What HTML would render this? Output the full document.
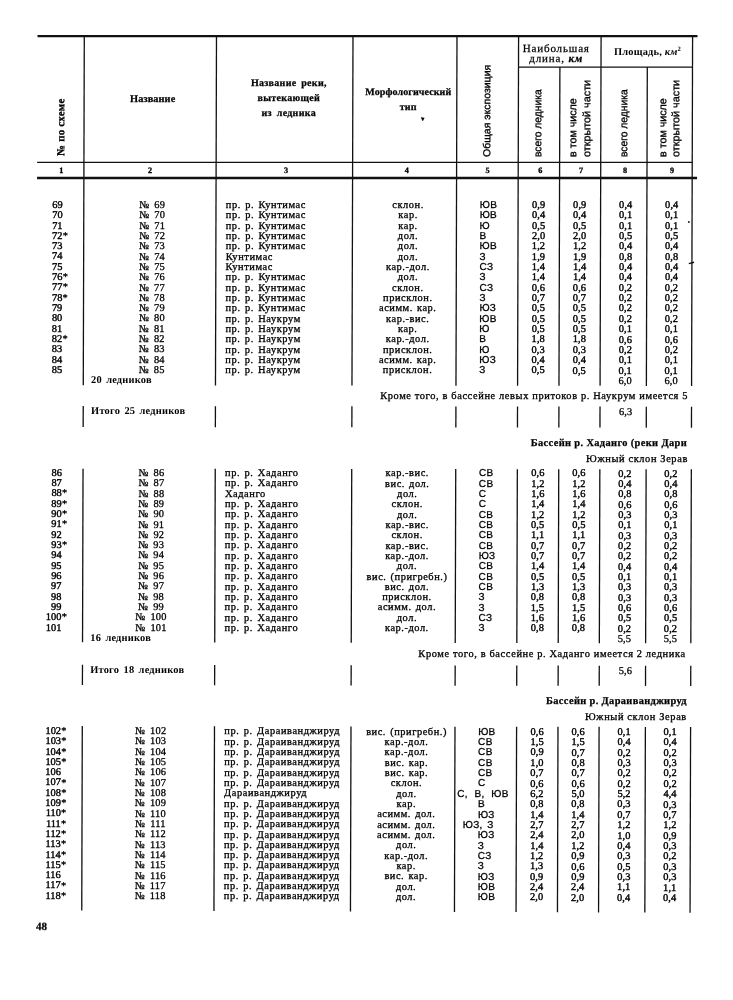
<!DOCTYPE html>
<html><head><meta charset="utf-8"><style>
html,body{margin:0;padding:0;background:#fff;}
#pg{filter:grayscale(1);position:relative;width:733px;height:1000px;overflow:hidden;background:#fff;color:#111;font-family:'Liberation Serif', serif;}
.l{position:absolute;}
#sk{position:absolute;left:0;top:0;width:733px;height:1000px;transform-origin:0 205px;transform:skewX(-0.166deg);}
.t{position:absolute;line-height:0;white-space:nowrap;-webkit-text-stroke:0.3px #000;color:#000}
.b{-webkit-text-stroke:0}
.r{transform-origin:0 0;}
.st{position:absolute;left:100%;top:0;font-size:8px;}
</style></head><body><div id="pg"><div id="sk">
<svg width="733" height="1000" style="position:absolute;left:0;top:0">
<rect x="37.00" y="35.00" width="660.00" height="2.20" fill="#111"/>
<rect x="37.00" y="161.80" width="655.00" height="1.30" fill="#111"/>
<rect x="37.00" y="176.80" width="660.00" height="2.40" fill="#111"/>
<rect x="517.60" y="66.40" width="174.50" height="1.30" fill="#111"/>
<rect x="83.15" y="37.00" width="1.30" height="140.20" fill="#111"/>
<rect x="215.35" y="37.00" width="1.30" height="140.20" fill="#111"/>
<rect x="351.85" y="37.00" width="1.30" height="140.20" fill="#111"/>
<rect x="455.85" y="37.00" width="1.30" height="140.20" fill="#111"/>
<rect x="517.45" y="37.00" width="1.30" height="140.20" fill="#111"/>
<rect x="558.85" y="67.00" width="1.30" height="110.20" fill="#111"/>
<rect x="599.95" y="37.00" width="1.30" height="140.20" fill="#111"/>
<rect x="646.25" y="67.00" width="1.30" height="110.20" fill="#111"/>
<rect x="691.45" y="37.00" width="1.30" height="140.20" fill="#111"/>
<path d="M420.8 117.5 L424.0 117.9 L422.5 120.9 Z" fill="#000" stroke="#000" stroke-width="0.4"/>
<circle cx="688.9" cy="221.9" r="1.0" fill="#222"/>
<path d="M689.0 263.6 L694.2 262.2" stroke="#111" stroke-width="1.4"/>
<rect x="83.15" y="178.00" width="1.30" height="207.33" fill="#111"/>
<rect x="215.35" y="178.00" width="1.30" height="207.46" fill="#111"/>
<rect x="351.85" y="178.00" width="1.30" height="207.60" fill="#111"/>
<rect x="455.85" y="178.00" width="1.30" height="207.71" fill="#111"/>
<rect x="517.45" y="178.00" width="1.30" height="207.77" fill="#111"/>
<rect x="558.85" y="178.00" width="1.30" height="207.81" fill="#111"/>
<rect x="599.95" y="178.00" width="1.30" height="207.85" fill="#111"/>
<rect x="646.25" y="178.00" width="1.30" height="207.90" fill="#111"/>
<rect x="691.45" y="178.00" width="1.30" height="207.94" fill="#111"/>
<rect x="83.15" y="406.03" width="1.30" height="21.00" fill="#111"/>
<rect x="215.35" y="406.17" width="1.30" height="21.01" fill="#111"/>
<rect x="351.85" y="406.31" width="1.30" height="21.01" fill="#111"/>
<rect x="455.85" y="406.42" width="1.30" height="21.02" fill="#111"/>
<rect x="517.45" y="406.49" width="1.30" height="21.02" fill="#111"/>
<rect x="558.85" y="406.53" width="1.30" height="21.02" fill="#111"/>
<rect x="599.95" y="406.58" width="1.30" height="21.03" fill="#111"/>
<rect x="646.25" y="406.63" width="1.30" height="21.03" fill="#111"/>
<rect x="691.45" y="406.67" width="1.30" height="21.03" fill="#111"/>
<rect x="83.15" y="468.63" width="1.30" height="173.71" fill="#111"/>
<rect x="215.35" y="468.79" width="1.30" height="173.76" fill="#111"/>
<rect x="351.85" y="468.96" width="1.30" height="173.82" fill="#111"/>
<rect x="455.85" y="469.08" width="1.30" height="173.86" fill="#111"/>
<rect x="517.45" y="469.16" width="1.30" height="173.88" fill="#111"/>
<rect x="558.85" y="469.21" width="1.30" height="173.90" fill="#111"/>
<rect x="599.95" y="469.26" width="1.30" height="173.92" fill="#111"/>
<rect x="646.25" y="469.31" width="1.30" height="173.93" fill="#111"/>
<rect x="691.45" y="469.37" width="1.30" height="173.95" fill="#111"/>
<rect x="83.15" y="664.85" width="1.30" height="20.20" fill="#111"/>
<rect x="215.35" y="665.06" width="1.30" height="20.20" fill="#111"/>
<rect x="351.85" y="665.27" width="1.30" height="20.20" fill="#111"/>
<rect x="455.85" y="665.44" width="1.30" height="20.20" fill="#111"/>
<rect x="517.45" y="665.54" width="1.30" height="20.20" fill="#111"/>
<rect x="558.85" y="665.61" width="1.30" height="20.20" fill="#111"/>
<rect x="599.95" y="665.67" width="1.30" height="20.20" fill="#111"/>
<rect x="646.25" y="665.75" width="1.30" height="20.20" fill="#111"/>
<rect x="691.45" y="665.82" width="1.30" height="20.20" fill="#111"/>
<rect x="83.15" y="726.05" width="1.30" height="184.55" fill="#111"/>
<rect x="215.35" y="726.26" width="1.30" height="184.80" fill="#111"/>
<rect x="351.85" y="726.47" width="1.30" height="185.06" fill="#111"/>
<rect x="455.85" y="726.64" width="1.30" height="185.26" fill="#111"/>
<rect x="517.45" y="726.74" width="1.30" height="185.37" fill="#111"/>
<rect x="558.85" y="726.81" width="1.30" height="185.45" fill="#111"/>
<rect x="599.95" y="726.87" width="1.30" height="185.53" fill="#111"/>
<rect x="646.25" y="726.95" width="1.30" height="185.61" fill="#111"/>
<rect x="691.45" y="727.02" width="1.30" height="185.70" fill="#111"/>
</svg>
<div class="t r b" style="left:59.65px;top:155.80px;font-size:10.8px;font-weight:700;font-family:'Liberation Serif', serif;-webkit-text-stroke:0.3px #000;letter-spacing:0.3px;transform:rotate(-90deg) scaleX(1.0)">№ по схеме</div>
<div class="t r" style="left:486.67px;top:157.00px;font-size:10.2px;font-weight:400;font-family:'Liberation Sans', sans-serif;letter-spacing:0px;transform:rotate(-90deg) scaleX(1.03)">Общая экспозиция</div>
<div class="t r" style="left:537.33px;top:156.80px;font-size:10.6px;font-weight:400;font-family:'Liberation Sans', sans-serif;letter-spacing:0px;transform:rotate(-90deg) scaleX(0.97)">всего ледника</div>
<div class="t r" style="left:571.83px;top:156.80px;font-size:10.6px;font-weight:400;font-family:'Liberation Sans', sans-serif;letter-spacing:0px;transform:rotate(-90deg) scaleX(1.01)">в том числе</div>
<div class="t r" style="left:585.93px;top:156.80px;font-size:10.6px;font-weight:400;font-family:'Liberation Sans', sans-serif;letter-spacing:0px;transform:rotate(-90deg) scaleX(1.02)">открытой части</div>
<div class="t r" style="left:623.33px;top:156.80px;font-size:10.6px;font-weight:400;font-family:'Liberation Sans', sans-serif;letter-spacing:0px;transform:rotate(-90deg) scaleX(0.97)">всего ледника</div>
<div class="t r" style="left:661.93px;top:156.80px;font-size:10.6px;font-weight:400;font-family:'Liberation Sans', sans-serif;letter-spacing:0px;transform:rotate(-90deg) scaleX(1.01)">в том числе</div>
<div class="t r" style="left:674.73px;top:157.00px;font-size:10.6px;font-weight:400;font-family:'Liberation Sans', sans-serif;letter-spacing:0px;transform:rotate(-90deg) scaleX(1.02)">открытой части</div>
<div class="t b" style="top:98.82px;font-size:10.3px;letter-spacing:0.1px;font-weight:700;font-family:'Liberation Serif', serif;left:2.40px;width:300px;text-align:center;-webkit-text-stroke:0.25px #000;">Название</div>
<div class="t b" style="top:83.33px;font-size:10.0px;letter-spacing:0.3px;font-weight:700;font-family:'Liberation Serif', serif;left:138.50px;width:300px;text-align:center;word-spacing:2px;-webkit-text-stroke:0.25px #000;">Название реки,</div>
<div class="t b" style="top:98.33px;font-size:10.0px;letter-spacing:0.3px;font-weight:700;font-family:'Liberation Serif', serif;left:138.50px;width:300px;text-align:center;word-spacing:2px;-webkit-text-stroke:0.25px #000;">вытекающей</div>
<div class="t b" style="top:113.33px;font-size:10.0px;letter-spacing:0.3px;font-weight:700;font-family:'Liberation Serif', serif;left:138.50px;width:300px;text-align:center;word-spacing:2px;-webkit-text-stroke:0.25px #000;">из ледника</div>
<div class="t b" style="top:91.62px;font-size:10.0px;letter-spacing:0.1px;font-weight:700;font-family:'Liberation Serif', serif;left:258.00px;width:300px;text-align:center;-webkit-text-stroke:0.25px #000;">Морфологический</div>
<div class="t b" style="top:106.62px;font-size:10.0px;letter-spacing:0.2px;font-weight:700;font-family:'Liberation Serif', serif;left:258.00px;width:300px;text-align:center;-webkit-text-stroke:0.25px #000;">тип</div>
<div class="t" style="top:48.19px;font-size:11.0px;letter-spacing:0.85px;font-weight:400;font-family:'Liberation Serif', serif;left:405.80px;width:300px;text-align:center;-webkit-text-stroke:0.25px #000;">Наибольшая</div>
<div class="t" style="top:57.69px;font-size:11.0px;letter-spacing:0.85px;font-weight:400;font-family:'Liberation Serif', serif;left:405.80px;width:300px;text-align:center;-webkit-text-stroke:0.25px #000;">длина, <i><b>км</b></i></div>
<div class="t b" style="top:52.49px;font-size:10.4px;letter-spacing:0.2px;font-weight:700;font-family:'Liberation Serif', serif;left:497.10px;width:300px;text-align:center;">Площадь, <i>км</i><span style="font-size:6.5px;position:relative;top:-4px">2</span></div>
<div class="t b" style="top:170.53px;font-size:8.2px;letter-spacing:0px;font-weight:700;font-family:'Liberation Serif', serif;left:-88.70px;width:300px;text-align:center;-webkit-text-stroke:0.3px #000;">1</div>
<div class="t b" style="top:170.53px;font-size:8.2px;letter-spacing:0px;font-weight:700;font-family:'Liberation Serif', serif;left:-0.10px;width:300px;text-align:center;-webkit-text-stroke:0.3px #000;">2</div>
<div class="t b" style="top:170.53px;font-size:8.2px;letter-spacing:0px;font-weight:700;font-family:'Liberation Serif', serif;left:136.00px;width:300px;text-align:center;-webkit-text-stroke:0.3px #000;">3</div>
<div class="t b" style="top:170.53px;font-size:8.2px;letter-spacing:0px;font-weight:700;font-family:'Liberation Serif', serif;left:256.70px;width:300px;text-align:center;-webkit-text-stroke:0.3px #000;">4</div>
<div class="t b" style="top:170.53px;font-size:8.2px;letter-spacing:0px;font-weight:700;font-family:'Liberation Serif', serif;left:337.40px;width:300px;text-align:center;-webkit-text-stroke:0.3px #000;">5</div>
<div class="t b" style="top:170.53px;font-size:8.2px;letter-spacing:0px;font-weight:700;font-family:'Liberation Serif', serif;left:390.20px;width:300px;text-align:center;-webkit-text-stroke:0.3px #000;">6</div>
<div class="t b" style="top:170.53px;font-size:8.2px;letter-spacing:0px;font-weight:700;font-family:'Liberation Serif', serif;left:430.90px;width:300px;text-align:center;-webkit-text-stroke:0.3px #000;">7</div>
<div class="t b" style="top:170.53px;font-size:8.2px;letter-spacing:0px;font-weight:700;font-family:'Liberation Serif', serif;left:474.90px;width:300px;text-align:center;-webkit-text-stroke:0.3px #000;">8</div>
<div class="t b" style="top:170.53px;font-size:8.2px;letter-spacing:0px;font-weight:700;font-family:'Liberation Serif', serif;left:522.00px;width:300px;text-align:center;-webkit-text-stroke:0.3px #000;">9</div>
<div class="t" style="top:204.89px;right:670.40px;font-size:10.4px;letter-spacing:0;text-align:right;-webkit-text-stroke:0.4px #000">69</div>
<div class="t" style="top:204.89px;font-size:10.4px;letter-spacing:0.2px;font-weight:400;font-family:'Liberation Serif', serif;left:2.20px;width:300px;text-align:center;word-spacing:2.2px;">№ 69</div>
<div class="t" style="top:204.90px;font-size:10.4px;letter-spacing:0.58px;font-weight:400;font-family:'Liberation Serif', serif;left:225.80px;word-spacing:1.2px;">пр. р. Кунтимас</div>
<div class="t" style="top:204.91px;font-size:10.4px;letter-spacing:0.55px;font-weight:400;font-family:'Liberation Serif', serif;left:258.10px;width:300px;text-align:center;word-spacing:1px;">склон.</div>
<div class="t" style="top:204.96px;font-size:10.0px;letter-spacing:0.35px;font-weight:400;font-family:'Liberation Sans', sans-serif;left:479.70px;word-spacing:1.5px;">ЮВ</div>
<div class="t" style="top:204.91px;font-size:10.4px;letter-spacing:0.1px;font-weight:400;font-family:'Liberation Serif', serif;left:532.00px;-webkit-text-stroke:0.4px #000;">0,9</div>
<div class="t" style="top:204.92px;font-size:10.4px;letter-spacing:0.1px;font-weight:400;font-family:'Liberation Serif', serif;left:573.10px;-webkit-text-stroke:0.4px #000;">0,9</div>
<div class="t" style="top:204.92px;font-size:10.4px;letter-spacing:0.1px;font-weight:400;font-family:'Liberation Serif', serif;left:619.10px;-webkit-text-stroke:0.4px #000;">0,4</div>
<div class="t" style="top:204.92px;font-size:10.4px;letter-spacing:0.1px;font-weight:400;font-family:'Liberation Serif', serif;left:665.10px;-webkit-text-stroke:0.4px #000;">0,4</div>
<div class="t" style="top:215.21px;right:670.40px;font-size:10.4px;letter-spacing:0;text-align:right;-webkit-text-stroke:0.4px #000">70</div>
<div class="t" style="top:215.22px;font-size:10.4px;letter-spacing:0.2px;font-weight:400;font-family:'Liberation Serif', serif;left:2.20px;width:300px;text-align:center;word-spacing:2.2px;">№ 70</div>
<div class="t" style="top:215.23px;font-size:10.4px;letter-spacing:0.58px;font-weight:400;font-family:'Liberation Serif', serif;left:225.80px;word-spacing:1.2px;">пр. р. Кунтимас</div>
<div class="t" style="top:215.25px;font-size:10.4px;letter-spacing:0.55px;font-weight:400;font-family:'Liberation Serif', serif;left:258.10px;width:300px;text-align:center;word-spacing:1px;">кар.</div>
<div class="t" style="top:215.30px;font-size:10.0px;letter-spacing:0.35px;font-weight:400;font-family:'Liberation Sans', sans-serif;left:479.70px;word-spacing:1.5px;">ЮВ</div>
<div class="t" style="top:215.26px;font-size:10.4px;letter-spacing:0.1px;font-weight:400;font-family:'Liberation Serif', serif;left:532.00px;-webkit-text-stroke:0.4px #000;">0,4</div>
<div class="t" style="top:215.27px;font-size:10.4px;letter-spacing:0.1px;font-weight:400;font-family:'Liberation Serif', serif;left:573.10px;-webkit-text-stroke:0.4px #000;">0,4</div>
<div class="t" style="top:215.27px;font-size:10.4px;letter-spacing:0.1px;font-weight:400;font-family:'Liberation Serif', serif;left:619.10px;-webkit-text-stroke:0.4px #000;">0,1</div>
<div class="t" style="top:215.28px;font-size:10.4px;letter-spacing:0.1px;font-weight:400;font-family:'Liberation Serif', serif;left:665.10px;-webkit-text-stroke:0.4px #000;">0,1</div>
<div class="t" style="top:225.53px;right:670.40px;font-size:10.4px;letter-spacing:0;text-align:right;-webkit-text-stroke:0.4px #000">71</div>
<div class="t" style="top:225.55px;font-size:10.4px;letter-spacing:0.2px;font-weight:400;font-family:'Liberation Serif', serif;left:2.20px;width:300px;text-align:center;word-spacing:2.2px;">№ 71</div>
<div class="t" style="top:225.56px;font-size:10.4px;letter-spacing:0.58px;font-weight:400;font-family:'Liberation Serif', serif;left:225.80px;word-spacing:1.2px;">пр. р. Кунтимас</div>
<div class="t" style="top:225.59px;font-size:10.4px;letter-spacing:0.55px;font-weight:400;font-family:'Liberation Serif', serif;left:258.10px;width:300px;text-align:center;word-spacing:1px;">кар.</div>
<div class="t" style="top:225.65px;font-size:10.0px;letter-spacing:0.35px;font-weight:400;font-family:'Liberation Sans', sans-serif;left:479.70px;word-spacing:1.5px;">Ю</div>
<div class="t" style="top:225.61px;font-size:10.4px;letter-spacing:0.1px;font-weight:400;font-family:'Liberation Serif', serif;left:532.00px;-webkit-text-stroke:0.4px #000;">0,5</div>
<div class="t" style="top:225.62px;font-size:10.4px;letter-spacing:0.1px;font-weight:400;font-family:'Liberation Serif', serif;left:573.10px;-webkit-text-stroke:0.4px #000;">0,5</div>
<div class="t" style="top:225.62px;font-size:10.4px;letter-spacing:0.1px;font-weight:400;font-family:'Liberation Serif', serif;left:619.10px;-webkit-text-stroke:0.4px #000;">0,1</div>
<div class="t" style="top:225.63px;font-size:10.4px;letter-spacing:0.1px;font-weight:400;font-family:'Liberation Serif', serif;left:665.10px;-webkit-text-stroke:0.4px #000;">0,1</div>
<div class="t" style="top:235.85px;right:670.40px;font-size:10.4px;letter-spacing:0;text-align:right;-webkit-text-stroke:0.4px #000">72</div>
<div class="t" style="top:235.86px;font-size:10.4px;letter-spacing:0px;font-weight:400;font-family:'Liberation Serif', serif;left:62.90px;">*</div>
<div class="t" style="top:235.87px;font-size:10.4px;letter-spacing:0.2px;font-weight:400;font-family:'Liberation Serif', serif;left:2.20px;width:300px;text-align:center;word-spacing:2.2px;">№ 72</div>
<div class="t" style="top:235.89px;font-size:10.4px;letter-spacing:0.58px;font-weight:400;font-family:'Liberation Serif', serif;left:225.80px;word-spacing:1.2px;">пр. р. Кунтимас</div>
<div class="t" style="top:235.93px;font-size:10.4px;letter-spacing:0.55px;font-weight:400;font-family:'Liberation Serif', serif;left:258.10px;width:300px;text-align:center;word-spacing:1px;">дол.</div>
<div class="t" style="top:235.99px;font-size:10.0px;letter-spacing:0.35px;font-weight:400;font-family:'Liberation Sans', sans-serif;left:479.70px;word-spacing:1.5px;">В</div>
<div class="t" style="top:235.96px;font-size:10.4px;letter-spacing:0.1px;font-weight:400;font-family:'Liberation Serif', serif;left:532.00px;-webkit-text-stroke:0.4px #000;">2,0</div>
<div class="t" style="top:235.97px;font-size:10.4px;letter-spacing:0.1px;font-weight:400;font-family:'Liberation Serif', serif;left:573.10px;-webkit-text-stroke:0.4px #000;">2,0</div>
<div class="t" style="top:235.98px;font-size:10.4px;letter-spacing:0.1px;font-weight:400;font-family:'Liberation Serif', serif;left:619.10px;-webkit-text-stroke:0.4px #000;">0,5</div>
<div class="t" style="top:235.99px;font-size:10.4px;letter-spacing:0.1px;font-weight:400;font-family:'Liberation Serif', serif;left:665.10px;-webkit-text-stroke:0.4px #000;">0,5</div>
<div class="t" style="top:246.17px;right:670.40px;font-size:10.4px;letter-spacing:0;text-align:right;-webkit-text-stroke:0.4px #000">73</div>
<div class="t" style="top:246.20px;font-size:10.4px;letter-spacing:0.2px;font-weight:400;font-family:'Liberation Serif', serif;left:2.20px;width:300px;text-align:center;word-spacing:2.2px;">№ 73</div>
<div class="t" style="top:246.22px;font-size:10.4px;letter-spacing:0.58px;font-weight:400;font-family:'Liberation Serif', serif;left:225.80px;word-spacing:1.2px;">пр. р. Кунтимас</div>
<div class="t" style="top:246.27px;font-size:10.4px;letter-spacing:0.55px;font-weight:400;font-family:'Liberation Serif', serif;left:258.10px;width:300px;text-align:center;word-spacing:1px;">дол.</div>
<div class="t" style="top:246.34px;font-size:10.0px;letter-spacing:0.35px;font-weight:400;font-family:'Liberation Sans', sans-serif;left:479.70px;word-spacing:1.5px;">ЮВ</div>
<div class="t" style="top:246.31px;font-size:10.4px;letter-spacing:0.1px;font-weight:400;font-family:'Liberation Serif', serif;left:532.00px;-webkit-text-stroke:0.4px #000;">1,2</div>
<div class="t" style="top:246.32px;font-size:10.4px;letter-spacing:0.1px;font-weight:400;font-family:'Liberation Serif', serif;left:573.10px;-webkit-text-stroke:0.4px #000;">1,2</div>
<div class="t" style="top:246.33px;font-size:10.4px;letter-spacing:0.1px;font-weight:400;font-family:'Liberation Serif', serif;left:619.10px;-webkit-text-stroke:0.4px #000;">0,4</div>
<div class="t" style="top:246.34px;font-size:10.4px;letter-spacing:0.1px;font-weight:400;font-family:'Liberation Serif', serif;left:665.10px;-webkit-text-stroke:0.4px #000;">0,4</div>
<div class="t" style="top:256.49px;right:670.40px;font-size:10.4px;letter-spacing:0;text-align:right;-webkit-text-stroke:0.4px #000">74</div>
<div class="t" style="top:256.52px;font-size:10.4px;letter-spacing:0.2px;font-weight:400;font-family:'Liberation Serif', serif;left:2.20px;width:300px;text-align:center;word-spacing:2.2px;">№ 74</div>
<div class="t" style="top:256.55px;font-size:10.4px;letter-spacing:0.58px;font-weight:400;font-family:'Liberation Serif', serif;left:225.80px;word-spacing:1.2px;">Кунтимас</div>
<div class="t" style="top:256.61px;font-size:10.4px;letter-spacing:0.55px;font-weight:400;font-family:'Liberation Serif', serif;left:258.10px;width:300px;text-align:center;word-spacing:1px;">дол.</div>
<div class="t" style="top:256.68px;font-size:10.0px;letter-spacing:0.35px;font-weight:400;font-family:'Liberation Sans', sans-serif;left:479.70px;word-spacing:1.5px;">З</div>
<div class="t" style="top:256.66px;font-size:10.4px;letter-spacing:0.1px;font-weight:400;font-family:'Liberation Serif', serif;left:532.00px;-webkit-text-stroke:0.4px #000;">1,9</div>
<div class="t" style="top:256.67px;font-size:10.4px;letter-spacing:0.1px;font-weight:400;font-family:'Liberation Serif', serif;left:573.10px;-webkit-text-stroke:0.4px #000;">1,9</div>
<div class="t" style="top:256.68px;font-size:10.4px;letter-spacing:0.1px;font-weight:400;font-family:'Liberation Serif', serif;left:619.10px;-webkit-text-stroke:0.4px #000;">0,8</div>
<div class="t" style="top:256.70px;font-size:10.4px;letter-spacing:0.1px;font-weight:400;font-family:'Liberation Serif', serif;left:665.10px;-webkit-text-stroke:0.4px #000;">0,8</div>
<div class="t" style="top:266.81px;right:670.40px;font-size:10.4px;letter-spacing:0;text-align:right;-webkit-text-stroke:0.4px #000">75</div>
<div class="t" style="top:266.85px;font-size:10.4px;letter-spacing:0.2px;font-weight:400;font-family:'Liberation Serif', serif;left:2.20px;width:300px;text-align:center;word-spacing:2.2px;">№ 75</div>
<div class="t" style="top:266.88px;font-size:10.4px;letter-spacing:0.58px;font-weight:400;font-family:'Liberation Serif', serif;left:225.80px;word-spacing:1.2px;">Кунтимас</div>
<div class="t" style="top:266.95px;font-size:10.4px;letter-spacing:0.55px;font-weight:400;font-family:'Liberation Serif', serif;left:258.10px;width:300px;text-align:center;word-spacing:1px;">кар.-дол.</div>
<div class="t" style="top:267.03px;font-size:10.0px;letter-spacing:0.35px;font-weight:400;font-family:'Liberation Sans', sans-serif;left:479.70px;word-spacing:1.5px;">СЗ</div>
<div class="t" style="top:267.00px;font-size:10.4px;letter-spacing:0.1px;font-weight:400;font-family:'Liberation Serif', serif;left:532.00px;-webkit-text-stroke:0.4px #000;">1,4</div>
<div class="t" style="top:267.02px;font-size:10.4px;letter-spacing:0.1px;font-weight:400;font-family:'Liberation Serif', serif;left:573.10px;-webkit-text-stroke:0.4px #000;">1,4</div>
<div class="t" style="top:267.04px;font-size:10.4px;letter-spacing:0.1px;font-weight:400;font-family:'Liberation Serif', serif;left:619.10px;-webkit-text-stroke:0.4px #000;">0,4</div>
<div class="t" style="top:267.06px;font-size:10.4px;letter-spacing:0.1px;font-weight:400;font-family:'Liberation Serif', serif;left:665.10px;-webkit-text-stroke:0.4px #000;">0,4</div>
<div class="t" style="top:277.13px;right:670.40px;font-size:10.4px;letter-spacing:0;text-align:right;-webkit-text-stroke:0.4px #000">76</div>
<div class="t" style="top:277.14px;font-size:10.4px;letter-spacing:0px;font-weight:400;font-family:'Liberation Serif', serif;left:62.90px;">*</div>
<div class="t" style="top:277.17px;font-size:10.4px;letter-spacing:0.2px;font-weight:400;font-family:'Liberation Serif', serif;left:2.20px;width:300px;text-align:center;word-spacing:2.2px;">№ 76</div>
<div class="t" style="top:277.22px;font-size:10.4px;letter-spacing:0.58px;font-weight:400;font-family:'Liberation Serif', serif;left:225.80px;word-spacing:1.2px;">пр. р. Кунтимас</div>
<div class="t" style="top:277.29px;font-size:10.4px;letter-spacing:0.55px;font-weight:400;font-family:'Liberation Serif', serif;left:258.10px;width:300px;text-align:center;word-spacing:1px;">дол.</div>
<div class="t" style="top:277.37px;font-size:10.0px;letter-spacing:0.35px;font-weight:400;font-family:'Liberation Sans', sans-serif;left:479.70px;word-spacing:1.5px;">З</div>
<div class="t" style="top:277.35px;font-size:10.4px;letter-spacing:0.1px;font-weight:400;font-family:'Liberation Serif', serif;left:532.00px;-webkit-text-stroke:0.4px #000;">1,4</div>
<div class="t" style="top:277.37px;font-size:10.4px;letter-spacing:0.1px;font-weight:400;font-family:'Liberation Serif', serif;left:573.10px;-webkit-text-stroke:0.4px #000;">1,4</div>
<div class="t" style="top:277.39px;font-size:10.4px;letter-spacing:0.1px;font-weight:400;font-family:'Liberation Serif', serif;left:619.10px;-webkit-text-stroke:0.4px #000;">0,4</div>
<div class="t" style="top:277.41px;font-size:10.4px;letter-spacing:0.1px;font-weight:400;font-family:'Liberation Serif', serif;left:665.10px;-webkit-text-stroke:0.4px #000;">0,4</div>
<div class="t" style="top:287.45px;right:670.40px;font-size:10.4px;letter-spacing:0;text-align:right;-webkit-text-stroke:0.4px #000">77</div>
<div class="t" style="top:287.46px;font-size:10.4px;letter-spacing:0px;font-weight:400;font-family:'Liberation Serif', serif;left:62.90px;">*</div>
<div class="t" style="top:287.50px;font-size:10.4px;letter-spacing:0.2px;font-weight:400;font-family:'Liberation Serif', serif;left:2.20px;width:300px;text-align:center;word-spacing:2.2px;">№ 77</div>
<div class="t" style="top:287.55px;font-size:10.4px;letter-spacing:0.58px;font-weight:400;font-family:'Liberation Serif', serif;left:225.80px;word-spacing:1.2px;">пр. р. Кунтимас</div>
<div class="t" style="top:287.63px;font-size:10.4px;letter-spacing:0.55px;font-weight:400;font-family:'Liberation Serif', serif;left:258.10px;width:300px;text-align:center;word-spacing:1px;">склон.</div>
<div class="t" style="top:287.72px;font-size:10.0px;letter-spacing:0.35px;font-weight:400;font-family:'Liberation Sans', sans-serif;left:479.70px;word-spacing:1.5px;">СЗ</div>
<div class="t" style="top:287.70px;font-size:10.4px;letter-spacing:0.1px;font-weight:400;font-family:'Liberation Serif', serif;left:532.00px;-webkit-text-stroke:0.4px #000;">0,6</div>
<div class="t" style="top:287.72px;font-size:10.4px;letter-spacing:0.1px;font-weight:400;font-family:'Liberation Serif', serif;left:573.10px;-webkit-text-stroke:0.4px #000;">0,6</div>
<div class="t" style="top:287.75px;font-size:10.4px;letter-spacing:0.1px;font-weight:400;font-family:'Liberation Serif', serif;left:619.10px;-webkit-text-stroke:0.4px #000;">0,2</div>
<div class="t" style="top:287.77px;font-size:10.4px;letter-spacing:0.1px;font-weight:400;font-family:'Liberation Serif', serif;left:665.10px;-webkit-text-stroke:0.4px #000;">0,2</div>
<div class="t" style="top:297.77px;right:670.40px;font-size:10.4px;letter-spacing:0;text-align:right;-webkit-text-stroke:0.4px #000">78</div>
<div class="t" style="top:297.79px;font-size:10.4px;letter-spacing:0px;font-weight:400;font-family:'Liberation Serif', serif;left:62.90px;">*</div>
<div class="t" style="top:297.82px;font-size:10.4px;letter-spacing:0.2px;font-weight:400;font-family:'Liberation Serif', serif;left:2.20px;width:300px;text-align:center;word-spacing:2.2px;">№ 78</div>
<div class="t" style="top:297.88px;font-size:10.4px;letter-spacing:0.58px;font-weight:400;font-family:'Liberation Serif', serif;left:225.80px;word-spacing:1.2px;">пр. р. Кунтимас</div>
<div class="t" style="top:297.97px;font-size:10.4px;letter-spacing:0.55px;font-weight:400;font-family:'Liberation Serif', serif;left:258.10px;width:300px;text-align:center;word-spacing:1px;">присклон.</div>
<div class="t" style="top:298.07px;font-size:10.0px;letter-spacing:0.35px;font-weight:400;font-family:'Liberation Sans', sans-serif;left:479.70px;word-spacing:1.5px;">З</div>
<div class="t" style="top:298.05px;font-size:10.4px;letter-spacing:0.1px;font-weight:400;font-family:'Liberation Serif', serif;left:532.00px;-webkit-text-stroke:0.4px #000;">0,7</div>
<div class="t" style="top:298.07px;font-size:10.4px;letter-spacing:0.1px;font-weight:400;font-family:'Liberation Serif', serif;left:573.10px;-webkit-text-stroke:0.4px #000;">0,7</div>
<div class="t" style="top:298.10px;font-size:10.4px;letter-spacing:0.1px;font-weight:400;font-family:'Liberation Serif', serif;left:619.10px;-webkit-text-stroke:0.4px #000;">0,2</div>
<div class="t" style="top:298.12px;font-size:10.4px;letter-spacing:0.1px;font-weight:400;font-family:'Liberation Serif', serif;left:665.10px;-webkit-text-stroke:0.4px #000;">0,2</div>
<div class="t" style="top:308.09px;right:670.40px;font-size:10.4px;letter-spacing:0;text-align:right;-webkit-text-stroke:0.4px #000">79</div>
<div class="t" style="top:308.15px;font-size:10.4px;letter-spacing:0.2px;font-weight:400;font-family:'Liberation Serif', serif;left:2.20px;width:300px;text-align:center;word-spacing:2.2px;">№ 79</div>
<div class="t" style="top:308.21px;font-size:10.4px;letter-spacing:0.58px;font-weight:400;font-family:'Liberation Serif', serif;left:225.80px;word-spacing:1.2px;">пр. р. Кунтимас</div>
<div class="t" style="top:308.31px;font-size:10.4px;letter-spacing:0.55px;font-weight:400;font-family:'Liberation Serif', serif;left:258.10px;width:300px;text-align:center;word-spacing:1px;">асимм. кар.</div>
<div class="t" style="top:308.41px;font-size:10.0px;letter-spacing:0.35px;font-weight:400;font-family:'Liberation Sans', sans-serif;left:479.70px;word-spacing:1.5px;">ЮЗ</div>
<div class="t" style="top:308.40px;font-size:10.4px;letter-spacing:0.1px;font-weight:400;font-family:'Liberation Serif', serif;left:532.00px;-webkit-text-stroke:0.4px #000;">0,5</div>
<div class="t" style="top:308.42px;font-size:10.4px;letter-spacing:0.1px;font-weight:400;font-family:'Liberation Serif', serif;left:573.10px;-webkit-text-stroke:0.4px #000;">0,5</div>
<div class="t" style="top:308.45px;font-size:10.4px;letter-spacing:0.1px;font-weight:400;font-family:'Liberation Serif', serif;left:619.10px;-webkit-text-stroke:0.4px #000;">0,2</div>
<div class="t" style="top:308.48px;font-size:10.4px;letter-spacing:0.1px;font-weight:400;font-family:'Liberation Serif', serif;left:665.10px;-webkit-text-stroke:0.4px #000;">0,2</div>
<div class="t" style="top:318.41px;right:670.40px;font-size:10.4px;letter-spacing:0;text-align:right;-webkit-text-stroke:0.4px #000">80</div>
<div class="t" style="top:318.48px;font-size:10.4px;letter-spacing:0.2px;font-weight:400;font-family:'Liberation Serif', serif;left:2.20px;width:300px;text-align:center;word-spacing:2.2px;">№ 80</div>
<div class="t" style="top:318.54px;font-size:10.4px;letter-spacing:0.58px;font-weight:400;font-family:'Liberation Serif', serif;left:225.80px;word-spacing:1.2px;">пр. р. Наукрум</div>
<div class="t" style="top:318.65px;font-size:10.4px;letter-spacing:0.55px;font-weight:400;font-family:'Liberation Serif', serif;left:258.10px;width:300px;text-align:center;word-spacing:1px;">кар.-вис.</div>
<div class="t" style="top:318.76px;font-size:10.0px;letter-spacing:0.35px;font-weight:400;font-family:'Liberation Sans', sans-serif;left:479.70px;word-spacing:1.5px;">ЮВ</div>
<div class="t" style="top:318.75px;font-size:10.4px;letter-spacing:0.1px;font-weight:400;font-family:'Liberation Serif', serif;left:532.00px;-webkit-text-stroke:0.4px #000;">0,5</div>
<div class="t" style="top:318.77px;font-size:10.4px;letter-spacing:0.1px;font-weight:400;font-family:'Liberation Serif', serif;left:573.10px;-webkit-text-stroke:0.4px #000;">0,5</div>
<div class="t" style="top:318.81px;font-size:10.4px;letter-spacing:0.1px;font-weight:400;font-family:'Liberation Serif', serif;left:619.10px;-webkit-text-stroke:0.4px #000;">0,2</div>
<div class="t" style="top:318.84px;font-size:10.4px;letter-spacing:0.1px;font-weight:400;font-family:'Liberation Serif', serif;left:665.10px;-webkit-text-stroke:0.4px #000;">0,2</div>
<div class="t" style="top:328.73px;right:670.40px;font-size:10.4px;letter-spacing:0;text-align:right;-webkit-text-stroke:0.4px #000">81</div>
<div class="t" style="top:328.80px;font-size:10.4px;letter-spacing:0.2px;font-weight:400;font-family:'Liberation Serif', serif;left:2.20px;width:300px;text-align:center;word-spacing:2.2px;">№ 81</div>
<div class="t" style="top:328.87px;font-size:10.4px;letter-spacing:0.58px;font-weight:400;font-family:'Liberation Serif', serif;left:225.80px;word-spacing:1.2px;">пр. р. Наукрум</div>
<div class="t" style="top:328.99px;font-size:10.4px;letter-spacing:0.55px;font-weight:400;font-family:'Liberation Serif', serif;left:258.10px;width:300px;text-align:center;word-spacing:1px;">кар.</div>
<div class="t" style="top:329.10px;font-size:10.0px;letter-spacing:0.35px;font-weight:400;font-family:'Liberation Sans', sans-serif;left:479.70px;word-spacing:1.5px;">Ю</div>
<div class="t" style="top:329.10px;font-size:10.4px;letter-spacing:0.1px;font-weight:400;font-family:'Liberation Serif', serif;left:532.00px;-webkit-text-stroke:0.4px #000;">0,5</div>
<div class="t" style="top:329.13px;font-size:10.4px;letter-spacing:0.1px;font-weight:400;font-family:'Liberation Serif', serif;left:573.10px;-webkit-text-stroke:0.4px #000;">0,5</div>
<div class="t" style="top:329.16px;font-size:10.4px;letter-spacing:0.1px;font-weight:400;font-family:'Liberation Serif', serif;left:619.10px;-webkit-text-stroke:0.4px #000;">0,1</div>
<div class="t" style="top:329.19px;font-size:10.4px;letter-spacing:0.1px;font-weight:400;font-family:'Liberation Serif', serif;left:665.10px;-webkit-text-stroke:0.4px #000;">0,1</div>
<div class="t" style="top:339.05px;right:670.40px;font-size:10.4px;letter-spacing:0;text-align:right;-webkit-text-stroke:0.4px #000">82</div>
<div class="t" style="top:339.07px;font-size:10.4px;letter-spacing:0px;font-weight:400;font-family:'Liberation Serif', serif;left:62.90px;">*</div>
<div class="t" style="top:339.13px;font-size:10.4px;letter-spacing:0.2px;font-weight:400;font-family:'Liberation Serif', serif;left:2.20px;width:300px;text-align:center;word-spacing:2.2px;">№ 82</div>
<div class="t" style="top:339.20px;font-size:10.4px;letter-spacing:0.58px;font-weight:400;font-family:'Liberation Serif', serif;left:225.80px;word-spacing:1.2px;">пр. р. Наукрум</div>
<div class="t" style="top:339.33px;font-size:10.4px;letter-spacing:0.55px;font-weight:400;font-family:'Liberation Serif', serif;left:258.10px;width:300px;text-align:center;word-spacing:1px;">кар.-дол.</div>
<div class="t" style="top:339.45px;font-size:10.0px;letter-spacing:0.35px;font-weight:400;font-family:'Liberation Sans', sans-serif;left:479.70px;word-spacing:1.5px;">В</div>
<div class="t" style="top:339.44px;font-size:10.4px;letter-spacing:0.1px;font-weight:400;font-family:'Liberation Serif', serif;left:532.00px;-webkit-text-stroke:0.4px #000;">1,8</div>
<div class="t" style="top:339.48px;font-size:10.4px;letter-spacing:0.1px;font-weight:400;font-family:'Liberation Serif', serif;left:573.10px;-webkit-text-stroke:0.4px #000;">1,8</div>
<div class="t" style="top:339.51px;font-size:10.4px;letter-spacing:0.1px;font-weight:400;font-family:'Liberation Serif', serif;left:619.10px;-webkit-text-stroke:0.4px #000;">0,6</div>
<div class="t" style="top:339.55px;font-size:10.4px;letter-spacing:0.1px;font-weight:400;font-family:'Liberation Serif', serif;left:665.10px;-webkit-text-stroke:0.4px #000;">0,6</div>
<div class="t" style="top:349.37px;right:670.40px;font-size:10.4px;letter-spacing:0;text-align:right;-webkit-text-stroke:0.4px #000">83</div>
<div class="t" style="top:349.45px;font-size:10.4px;letter-spacing:0.2px;font-weight:400;font-family:'Liberation Serif', serif;left:2.20px;width:300px;text-align:center;word-spacing:2.2px;">№ 83</div>
<div class="t" style="top:349.53px;font-size:10.4px;letter-spacing:0.58px;font-weight:400;font-family:'Liberation Serif', serif;left:225.80px;word-spacing:1.2px;">пр. р. Наукрум</div>
<div class="t" style="top:349.67px;font-size:10.4px;letter-spacing:0.55px;font-weight:400;font-family:'Liberation Serif', serif;left:258.10px;width:300px;text-align:center;word-spacing:1px;">присклон.</div>
<div class="t" style="top:349.79px;font-size:10.0px;letter-spacing:0.35px;font-weight:400;font-family:'Liberation Sans', sans-serif;left:479.70px;word-spacing:1.5px;">Ю</div>
<div class="t" style="top:349.79px;font-size:10.4px;letter-spacing:0.1px;font-weight:400;font-family:'Liberation Serif', serif;left:532.00px;-webkit-text-stroke:0.4px #000;">0,3</div>
<div class="t" style="top:349.83px;font-size:10.4px;letter-spacing:0.1px;font-weight:400;font-family:'Liberation Serif', serif;left:573.10px;-webkit-text-stroke:0.4px #000;">0,3</div>
<div class="t" style="top:349.87px;font-size:10.4px;letter-spacing:0.1px;font-weight:400;font-family:'Liberation Serif', serif;left:619.10px;-webkit-text-stroke:0.4px #000;">0,2</div>
<div class="t" style="top:349.91px;font-size:10.4px;letter-spacing:0.1px;font-weight:400;font-family:'Liberation Serif', serif;left:665.10px;-webkit-text-stroke:0.4px #000;">0,2</div>
<div class="t" style="top:359.69px;right:670.40px;font-size:10.4px;letter-spacing:0;text-align:right;-webkit-text-stroke:0.4px #000">84</div>
<div class="t" style="top:359.78px;font-size:10.4px;letter-spacing:0.2px;font-weight:400;font-family:'Liberation Serif', serif;left:2.20px;width:300px;text-align:center;word-spacing:2.2px;">№ 84</div>
<div class="t" style="top:359.86px;font-size:10.4px;letter-spacing:0.58px;font-weight:400;font-family:'Liberation Serif', serif;left:225.80px;word-spacing:1.2px;">пр. р. Наукрум</div>
<div class="t" style="top:360.01px;font-size:10.4px;letter-spacing:0.55px;font-weight:400;font-family:'Liberation Serif', serif;left:258.10px;width:300px;text-align:center;word-spacing:1px;">асимм. кар.</div>
<div class="t" style="top:360.14px;font-size:10.0px;letter-spacing:0.35px;font-weight:400;font-family:'Liberation Sans', sans-serif;left:479.70px;word-spacing:1.5px;">ЮЗ</div>
<div class="t" style="top:360.14px;font-size:10.4px;letter-spacing:0.1px;font-weight:400;font-family:'Liberation Serif', serif;left:532.00px;-webkit-text-stroke:0.4px #000;">0,4</div>
<div class="t" style="top:360.18px;font-size:10.4px;letter-spacing:0.1px;font-weight:400;font-family:'Liberation Serif', serif;left:573.10px;-webkit-text-stroke:0.4px #000;">0,4</div>
<div class="t" style="top:360.22px;font-size:10.4px;letter-spacing:0.1px;font-weight:400;font-family:'Liberation Serif', serif;left:619.10px;-webkit-text-stroke:0.4px #000;">0,1</div>
<div class="t" style="top:360.26px;font-size:10.4px;letter-spacing:0.1px;font-weight:400;font-family:'Liberation Serif', serif;left:665.10px;-webkit-text-stroke:0.4px #000;">0,1</div>
<div class="t" style="top:370.01px;right:670.40px;font-size:10.4px;letter-spacing:0;text-align:right;-webkit-text-stroke:0.4px #000">85</div>
<div class="t" style="top:370.10px;font-size:10.4px;letter-spacing:0.2px;font-weight:400;font-family:'Liberation Serif', serif;left:2.20px;width:300px;text-align:center;word-spacing:2.2px;">№ 85</div>
<div class="t" style="top:370.19px;font-size:10.4px;letter-spacing:0.58px;font-weight:400;font-family:'Liberation Serif', serif;left:225.80px;word-spacing:1.2px;">пр. р. Наукрум</div>
<div class="t" style="top:370.35px;font-size:10.4px;letter-spacing:0.55px;font-weight:400;font-family:'Liberation Serif', serif;left:258.10px;width:300px;text-align:center;word-spacing:1px;">присклон.</div>
<div class="t" style="top:370.48px;font-size:10.0px;letter-spacing:0.35px;font-weight:400;font-family:'Liberation Sans', sans-serif;left:479.70px;word-spacing:1.5px;">З</div>
<div class="t" style="top:370.49px;font-size:10.4px;letter-spacing:0.1px;font-weight:400;font-family:'Liberation Serif', serif;left:532.00px;-webkit-text-stroke:0.4px #000;">0,5</div>
<div class="t" style="top:370.53px;font-size:10.4px;letter-spacing:0.1px;font-weight:400;font-family:'Liberation Serif', serif;left:573.10px;-webkit-text-stroke:0.4px #000;">0,5</div>
<div class="t" style="top:370.57px;font-size:10.4px;letter-spacing:0.1px;font-weight:400;font-family:'Liberation Serif', serif;left:619.10px;-webkit-text-stroke:0.4px #000;">0,1</div>
<div class="t" style="top:370.62px;font-size:10.4px;letter-spacing:0.1px;font-weight:400;font-family:'Liberation Serif', serif;left:665.10px;-webkit-text-stroke:0.4px #000;">0,1</div>
<div class="t b" style="top:380.39px;font-size:10.4px;letter-spacing:0.2px;font-weight:700;font-family:'Liberation Serif', serif;left:91.60px;word-spacing:1.5px;">20 ледников</div>
<div class="t" style="top:380.92px;font-size:10.4px;letter-spacing:0.1px;font-weight:400;font-family:'Liberation Serif', serif;left:619.10px;">6,0</div>
<div class="t" style="top:380.97px;font-size:10.4px;letter-spacing:0.1px;font-weight:400;font-family:'Liberation Serif', serif;left:665.10px;">6,0</div>
<div class="t" style="top:395.89px;font-size:10.4px;letter-spacing:0.62px;font-weight:400;font-family:'Liberation Serif', serif;right:44.40px;text-align:right;">Кроме того, в бассейне левых притоков р. Наукрум имеется 5</div>
<div class="t b" style="top:411.45px;font-size:10.4px;letter-spacing:0.22px;font-weight:700;font-family:'Liberation Serif', serif;left:91.70px;word-spacing:1.5px;">Итого 25 ледников</div>
<div class="t" style="top:412.02px;font-size:10.4px;letter-spacing:0.1px;font-weight:400;font-family:'Liberation Serif', serif;left:619.60px;">6,3</div>
<div class="t b" style="top:443.35px;font-size:10.4px;letter-spacing:0.37px;font-weight:700;font-family:'Liberation Serif', serif;right:45.30px;text-align:right;-webkit-text-stroke:0.25px #000;">Бассейн р. Хаданго (реки Дари</div>
<div class="t" style="top:458.57px;font-size:10.4px;letter-spacing:0.62px;font-weight:400;font-family:'Liberation Serif', serif;right:44.30px;text-align:right;">Южный склон Зерав</div>
<div class="t" style="top:472.79px;right:670.40px;font-size:10.4px;letter-spacing:0;text-align:right;-webkit-text-stroke:0.4px #000">86</div>
<div class="t" style="top:472.91px;font-size:10.4px;letter-spacing:0.2px;font-weight:400;font-family:'Liberation Serif', serif;left:2.20px;width:300px;text-align:center;word-spacing:2.2px;">№ 86</div>
<div class="t" style="top:473.02px;font-size:10.4px;letter-spacing:0.58px;font-weight:400;font-family:'Liberation Serif', serif;left:225.80px;word-spacing:1.2px;">пр. р. Хаданго</div>
<div class="t" style="top:473.22px;font-size:10.4px;letter-spacing:0.55px;font-weight:400;font-family:'Liberation Serif', serif;left:258.10px;width:300px;text-align:center;word-spacing:1px;">кар.-вис.</div>
<div class="t" style="top:473.38px;font-size:10.0px;letter-spacing:0.35px;font-weight:400;font-family:'Liberation Sans', sans-serif;left:479.70px;word-spacing:1.5px;">СВ</div>
<div class="t" style="top:473.40px;font-size:10.4px;letter-spacing:0.1px;font-weight:400;font-family:'Liberation Serif', serif;left:532.00px;-webkit-text-stroke:0.4px #000;">0,6</div>
<div class="t" style="top:473.45px;font-size:10.4px;letter-spacing:0.1px;font-weight:400;font-family:'Liberation Serif', serif;left:573.10px;-webkit-text-stroke:0.4px #000;">0,6</div>
<div class="t" style="top:473.50px;font-size:10.4px;letter-spacing:0.1px;font-weight:400;font-family:'Liberation Serif', serif;left:619.10px;-webkit-text-stroke:0.4px #000;">0,2</div>
<div class="t" style="top:473.56px;font-size:10.4px;letter-spacing:0.1px;font-weight:400;font-family:'Liberation Serif', serif;left:665.10px;-webkit-text-stroke:0.4px #000;">0,2</div>
<div class="t" style="top:483.11px;right:670.40px;font-size:10.4px;letter-spacing:0;text-align:right;-webkit-text-stroke:0.4px #000">87</div>
<div class="t" style="top:483.23px;font-size:10.4px;letter-spacing:0.2px;font-weight:400;font-family:'Liberation Serif', serif;left:2.20px;width:300px;text-align:center;word-spacing:2.2px;">№ 87</div>
<div class="t" style="top:483.35px;font-size:10.4px;letter-spacing:0.58px;font-weight:400;font-family:'Liberation Serif', serif;left:225.80px;word-spacing:1.2px;">пр. р. Хаданго</div>
<div class="t" style="top:483.55px;font-size:10.4px;letter-spacing:0.55px;font-weight:400;font-family:'Liberation Serif', serif;left:258.10px;width:300px;text-align:center;word-spacing:1px;">вис. дол.</div>
<div class="t" style="top:483.71px;font-size:10.0px;letter-spacing:0.35px;font-weight:400;font-family:'Liberation Sans', sans-serif;left:479.70px;word-spacing:1.5px;">СВ</div>
<div class="t" style="top:483.73px;font-size:10.4px;letter-spacing:0.1px;font-weight:400;font-family:'Liberation Serif', serif;left:532.00px;-webkit-text-stroke:0.4px #000;">1,2</div>
<div class="t" style="top:483.78px;font-size:10.4px;letter-spacing:0.1px;font-weight:400;font-family:'Liberation Serif', serif;left:573.10px;-webkit-text-stroke:0.4px #000;">1,2</div>
<div class="t" style="top:483.84px;font-size:10.4px;letter-spacing:0.1px;font-weight:400;font-family:'Liberation Serif', serif;left:619.10px;-webkit-text-stroke:0.4px #000;">0,4</div>
<div class="t" style="top:483.90px;font-size:10.4px;letter-spacing:0.1px;font-weight:400;font-family:'Liberation Serif', serif;left:665.10px;-webkit-text-stroke:0.4px #000;">0,4</div>
<div class="t" style="top:493.43px;right:670.40px;font-size:10.4px;letter-spacing:0;text-align:right;-webkit-text-stroke:0.4px #000">88</div>
<div class="t" style="top:493.47px;font-size:10.4px;letter-spacing:0px;font-weight:400;font-family:'Liberation Serif', serif;left:62.90px;">*</div>
<div class="t" style="top:493.55px;font-size:10.4px;letter-spacing:0.2px;font-weight:400;font-family:'Liberation Serif', serif;left:2.20px;width:300px;text-align:center;word-spacing:2.2px;">№ 88</div>
<div class="t" style="top:493.67px;font-size:10.4px;letter-spacing:0.58px;font-weight:400;font-family:'Liberation Serif', serif;left:225.80px;word-spacing:1.2px;">Хаданго</div>
<div class="t" style="top:493.88px;font-size:10.4px;letter-spacing:0.55px;font-weight:400;font-family:'Liberation Serif', serif;left:258.10px;width:300px;text-align:center;word-spacing:1px;">дол.</div>
<div class="t" style="top:494.04px;font-size:10.0px;letter-spacing:0.35px;font-weight:400;font-family:'Liberation Sans', sans-serif;left:479.70px;word-spacing:1.5px;">С</div>
<div class="t" style="top:494.06px;font-size:10.4px;letter-spacing:0.1px;font-weight:400;font-family:'Liberation Serif', serif;left:532.00px;-webkit-text-stroke:0.4px #000;">1,6</div>
<div class="t" style="top:494.11px;font-size:10.4px;letter-spacing:0.1px;font-weight:400;font-family:'Liberation Serif', serif;left:573.10px;-webkit-text-stroke:0.4px #000;">1,6</div>
<div class="t" style="top:494.17px;font-size:10.4px;letter-spacing:0.1px;font-weight:400;font-family:'Liberation Serif', serif;left:619.10px;-webkit-text-stroke:0.4px #000;">0,8</div>
<div class="t" style="top:494.23px;font-size:10.4px;letter-spacing:0.1px;font-weight:400;font-family:'Liberation Serif', serif;left:665.10px;-webkit-text-stroke:0.4px #000;">0,8</div>
<div class="t" style="top:503.75px;right:670.40px;font-size:10.4px;letter-spacing:0;text-align:right;-webkit-text-stroke:0.4px #000">89</div>
<div class="t" style="top:503.79px;font-size:10.4px;letter-spacing:0px;font-weight:400;font-family:'Liberation Serif', serif;left:62.90px;">*</div>
<div class="t" style="top:503.88px;font-size:10.4px;letter-spacing:0.2px;font-weight:400;font-family:'Liberation Serif', serif;left:2.20px;width:300px;text-align:center;word-spacing:2.2px;">№ 89</div>
<div class="t" style="top:504.00px;font-size:10.4px;letter-spacing:0.58px;font-weight:400;font-family:'Liberation Serif', serif;left:225.80px;word-spacing:1.2px;">пр. р. Хаданго</div>
<div class="t" style="top:504.21px;font-size:10.4px;letter-spacing:0.55px;font-weight:400;font-family:'Liberation Serif', serif;left:258.10px;width:300px;text-align:center;word-spacing:1px;">склон.</div>
<div class="t" style="top:504.37px;font-size:10.0px;letter-spacing:0.35px;font-weight:400;font-family:'Liberation Sans', sans-serif;left:479.70px;word-spacing:1.5px;">С</div>
<div class="t" style="top:504.39px;font-size:10.4px;letter-spacing:0.1px;font-weight:400;font-family:'Liberation Serif', serif;left:532.00px;-webkit-text-stroke:0.4px #000;">1,4</div>
<div class="t" style="top:504.45px;font-size:10.4px;letter-spacing:0.1px;font-weight:400;font-family:'Liberation Serif', serif;left:573.10px;-webkit-text-stroke:0.4px #000;">1,4</div>
<div class="t" style="top:504.51px;font-size:10.4px;letter-spacing:0.1px;font-weight:400;font-family:'Liberation Serif', serif;left:619.10px;-webkit-text-stroke:0.4px #000;">0,6</div>
<div class="t" style="top:504.57px;font-size:10.4px;letter-spacing:0.1px;font-weight:400;font-family:'Liberation Serif', serif;left:665.10px;-webkit-text-stroke:0.4px #000;">0,6</div>
<div class="t" style="top:514.07px;right:670.40px;font-size:10.4px;letter-spacing:0;text-align:right;-webkit-text-stroke:0.4px #000">90</div>
<div class="t" style="top:514.11px;font-size:10.4px;letter-spacing:0px;font-weight:400;font-family:'Liberation Serif', serif;left:62.90px;">*</div>
<div class="t" style="top:514.20px;font-size:10.4px;letter-spacing:0.2px;font-weight:400;font-family:'Liberation Serif', serif;left:2.20px;width:300px;text-align:center;word-spacing:2.2px;">№ 90</div>
<div class="t" style="top:514.32px;font-size:10.4px;letter-spacing:0.58px;font-weight:400;font-family:'Liberation Serif', serif;left:225.80px;word-spacing:1.2px;">пр. р. Хаданго</div>
<div class="t" style="top:514.54px;font-size:10.4px;letter-spacing:0.55px;font-weight:400;font-family:'Liberation Serif', serif;left:258.10px;width:300px;text-align:center;word-spacing:1px;">дол.</div>
<div class="t" style="top:514.70px;font-size:10.0px;letter-spacing:0.35px;font-weight:400;font-family:'Liberation Sans', sans-serif;left:479.70px;word-spacing:1.5px;">СВ</div>
<div class="t" style="top:514.72px;font-size:10.4px;letter-spacing:0.1px;font-weight:400;font-family:'Liberation Serif', serif;left:532.00px;-webkit-text-stroke:0.4px #000;">1,2</div>
<div class="t" style="top:514.78px;font-size:10.4px;letter-spacing:0.1px;font-weight:400;font-family:'Liberation Serif', serif;left:573.10px;-webkit-text-stroke:0.4px #000;">1,2</div>
<div class="t" style="top:514.84px;font-size:10.4px;letter-spacing:0.1px;font-weight:400;font-family:'Liberation Serif', serif;left:619.10px;-webkit-text-stroke:0.4px #000;">0,3</div>
<div class="t" style="top:514.90px;font-size:10.4px;letter-spacing:0.1px;font-weight:400;font-family:'Liberation Serif', serif;left:665.10px;-webkit-text-stroke:0.4px #000;">0,3</div>
<div class="t" style="top:524.39px;right:670.40px;font-size:10.4px;letter-spacing:0;text-align:right;-webkit-text-stroke:0.4px #000">91</div>
<div class="t" style="top:524.43px;font-size:10.4px;letter-spacing:0px;font-weight:400;font-family:'Liberation Serif', serif;left:62.90px;">*</div>
<div class="t" style="top:524.52px;font-size:10.4px;letter-spacing:0.2px;font-weight:400;font-family:'Liberation Serif', serif;left:2.20px;width:300px;text-align:center;word-spacing:2.2px;">№ 91</div>
<div class="t" style="top:524.65px;font-size:10.4px;letter-spacing:0.58px;font-weight:400;font-family:'Liberation Serif', serif;left:225.80px;word-spacing:1.2px;">пр. р. Хаданго</div>
<div class="t" style="top:524.86px;font-size:10.4px;letter-spacing:0.55px;font-weight:400;font-family:'Liberation Serif', serif;left:258.10px;width:300px;text-align:center;word-spacing:1px;">кар.-вис.</div>
<div class="t" style="top:525.03px;font-size:10.0px;letter-spacing:0.35px;font-weight:400;font-family:'Liberation Sans', sans-serif;left:479.70px;word-spacing:1.5px;">СВ</div>
<div class="t" style="top:525.06px;font-size:10.4px;letter-spacing:0.1px;font-weight:400;font-family:'Liberation Serif', serif;left:532.00px;-webkit-text-stroke:0.4px #000;">0,5</div>
<div class="t" style="top:525.11px;font-size:10.4px;letter-spacing:0.1px;font-weight:400;font-family:'Liberation Serif', serif;left:573.10px;-webkit-text-stroke:0.4px #000;">0,5</div>
<div class="t" style="top:525.17px;font-size:10.4px;letter-spacing:0.1px;font-weight:400;font-family:'Liberation Serif', serif;left:619.10px;-webkit-text-stroke:0.4px #000;">0,1</div>
<div class="t" style="top:525.24px;font-size:10.4px;letter-spacing:0.1px;font-weight:400;font-family:'Liberation Serif', serif;left:665.10px;-webkit-text-stroke:0.4px #000;">0,1</div>
<div class="t" style="top:534.71px;right:670.40px;font-size:10.4px;letter-spacing:0;text-align:right;-webkit-text-stroke:0.4px #000">92</div>
<div class="t" style="top:534.84px;font-size:10.4px;letter-spacing:0.2px;font-weight:400;font-family:'Liberation Serif', serif;left:2.20px;width:300px;text-align:center;word-spacing:2.2px;">№ 92</div>
<div class="t" style="top:534.97px;font-size:10.4px;letter-spacing:0.58px;font-weight:400;font-family:'Liberation Serif', serif;left:225.80px;word-spacing:1.2px;">пр. р. Хаданго</div>
<div class="t" style="top:535.19px;font-size:10.4px;letter-spacing:0.55px;font-weight:400;font-family:'Liberation Serif', serif;left:258.10px;width:300px;text-align:center;word-spacing:1px;">склон.</div>
<div class="t" style="top:535.36px;font-size:10.0px;letter-spacing:0.35px;font-weight:400;font-family:'Liberation Sans', sans-serif;left:479.70px;word-spacing:1.5px;">СВ</div>
<div class="t" style="top:535.39px;font-size:10.4px;letter-spacing:0.1px;font-weight:400;font-family:'Liberation Serif', serif;left:532.00px;-webkit-text-stroke:0.4px #000;">1,1</div>
<div class="t" style="top:535.44px;font-size:10.4px;letter-spacing:0.1px;font-weight:400;font-family:'Liberation Serif', serif;left:573.10px;-webkit-text-stroke:0.4px #000;">1,1</div>
<div class="t" style="top:535.51px;font-size:10.4px;letter-spacing:0.1px;font-weight:400;font-family:'Liberation Serif', serif;left:619.10px;-webkit-text-stroke:0.4px #000;">0,3</div>
<div class="t" style="top:535.57px;font-size:10.4px;letter-spacing:0.1px;font-weight:400;font-family:'Liberation Serif', serif;left:665.10px;-webkit-text-stroke:0.4px #000;">0,3</div>
<div class="t" style="top:545.03px;right:670.40px;font-size:10.4px;letter-spacing:0;text-align:right;-webkit-text-stroke:0.4px #000">93</div>
<div class="t" style="top:545.07px;font-size:10.4px;letter-spacing:0px;font-weight:400;font-family:'Liberation Serif', serif;left:62.90px;">*</div>
<div class="t" style="top:545.17px;font-size:10.4px;letter-spacing:0.2px;font-weight:400;font-family:'Liberation Serif', serif;left:2.20px;width:300px;text-align:center;word-spacing:2.2px;">№ 93</div>
<div class="t" style="top:545.30px;font-size:10.4px;letter-spacing:0.58px;font-weight:400;font-family:'Liberation Serif', serif;left:225.80px;word-spacing:1.2px;">пр. р. Хаданго</div>
<div class="t" style="top:545.52px;font-size:10.4px;letter-spacing:0.55px;font-weight:400;font-family:'Liberation Serif', serif;left:258.10px;width:300px;text-align:center;word-spacing:1px;">кар.-вис.</div>
<div class="t" style="top:545.69px;font-size:10.0px;letter-spacing:0.35px;font-weight:400;font-family:'Liberation Sans', sans-serif;left:479.70px;word-spacing:1.5px;">СВ</div>
<div class="t" style="top:545.72px;font-size:10.4px;letter-spacing:0.1px;font-weight:400;font-family:'Liberation Serif', serif;left:532.00px;-webkit-text-stroke:0.4px #000;">0,7</div>
<div class="t" style="top:545.78px;font-size:10.4px;letter-spacing:0.1px;font-weight:400;font-family:'Liberation Serif', serif;left:573.10px;-webkit-text-stroke:0.4px #000;">0,7</div>
<div class="t" style="top:545.84px;font-size:10.4px;letter-spacing:0.1px;font-weight:400;font-family:'Liberation Serif', serif;left:619.10px;-webkit-text-stroke:0.4px #000;">0,2</div>
<div class="t" style="top:545.91px;font-size:10.4px;letter-spacing:0.1px;font-weight:400;font-family:'Liberation Serif', serif;left:665.10px;-webkit-text-stroke:0.4px #000;">0,2</div>
<div class="t" style="top:555.35px;right:670.40px;font-size:10.4px;letter-spacing:0;text-align:right;-webkit-text-stroke:0.4px #000">94</div>
<div class="t" style="top:555.49px;font-size:10.4px;letter-spacing:0.2px;font-weight:400;font-family:'Liberation Serif', serif;left:2.20px;width:300px;text-align:center;word-spacing:2.2px;">№ 94</div>
<div class="t" style="top:555.62px;font-size:10.4px;letter-spacing:0.58px;font-weight:400;font-family:'Liberation Serif', serif;left:225.80px;word-spacing:1.2px;">пр. р. Хаданго</div>
<div class="t" style="top:555.85px;font-size:10.4px;letter-spacing:0.55px;font-weight:400;font-family:'Liberation Serif', serif;left:258.10px;width:300px;text-align:center;word-spacing:1px;">кар.-дол.</div>
<div class="t" style="top:556.02px;font-size:10.0px;letter-spacing:0.35px;font-weight:400;font-family:'Liberation Sans', sans-serif;left:479.70px;word-spacing:1.5px;">ЮЗ</div>
<div class="t" style="top:556.05px;font-size:10.4px;letter-spacing:0.1px;font-weight:400;font-family:'Liberation Serif', serif;left:532.00px;-webkit-text-stroke:0.4px #000;">0,7</div>
<div class="t" style="top:556.11px;font-size:10.4px;letter-spacing:0.1px;font-weight:400;font-family:'Liberation Serif', serif;left:573.10px;-webkit-text-stroke:0.4px #000;">0,7</div>
<div class="t" style="top:556.18px;font-size:10.4px;letter-spacing:0.1px;font-weight:400;font-family:'Liberation Serif', serif;left:619.10px;-webkit-text-stroke:0.4px #000;">0,2</div>
<div class="t" style="top:556.24px;font-size:10.4px;letter-spacing:0.1px;font-weight:400;font-family:'Liberation Serif', serif;left:665.10px;-webkit-text-stroke:0.4px #000;">0,2</div>
<div class="t" style="top:565.67px;right:670.40px;font-size:10.4px;letter-spacing:0;text-align:right;-webkit-text-stroke:0.4px #000">95</div>
<div class="t" style="top:565.81px;font-size:10.4px;letter-spacing:0.2px;font-weight:400;font-family:'Liberation Serif', serif;left:2.20px;width:300px;text-align:center;word-spacing:2.2px;">№ 95</div>
<div class="t" style="top:565.94px;font-size:10.4px;letter-spacing:0.58px;font-weight:400;font-family:'Liberation Serif', serif;left:225.80px;word-spacing:1.2px;">пр. р. Хаданго</div>
<div class="t" style="top:566.18px;font-size:10.4px;letter-spacing:0.55px;font-weight:400;font-family:'Liberation Serif', serif;left:258.10px;width:300px;text-align:center;word-spacing:1px;">дол.</div>
<div class="t" style="top:566.35px;font-size:10.0px;letter-spacing:0.35px;font-weight:400;font-family:'Liberation Sans', sans-serif;left:479.70px;word-spacing:1.5px;">СВ</div>
<div class="t" style="top:566.38px;font-size:10.4px;letter-spacing:0.1px;font-weight:400;font-family:'Liberation Serif', serif;left:532.00px;-webkit-text-stroke:0.4px #000;">1,4</div>
<div class="t" style="top:566.44px;font-size:10.4px;letter-spacing:0.1px;font-weight:400;font-family:'Liberation Serif', serif;left:573.10px;-webkit-text-stroke:0.4px #000;">1,4</div>
<div class="t" style="top:566.51px;font-size:10.4px;letter-spacing:0.1px;font-weight:400;font-family:'Liberation Serif', serif;left:619.10px;-webkit-text-stroke:0.4px #000;">0,4</div>
<div class="t" style="top:566.58px;font-size:10.4px;letter-spacing:0.1px;font-weight:400;font-family:'Liberation Serif', serif;left:665.10px;-webkit-text-stroke:0.4px #000;">0,4</div>
<div class="t" style="top:575.99px;right:670.40px;font-size:10.4px;letter-spacing:0;text-align:right;-webkit-text-stroke:0.4px #000">96</div>
<div class="t" style="top:576.13px;font-size:10.4px;letter-spacing:0.2px;font-weight:400;font-family:'Liberation Serif', serif;left:2.20px;width:300px;text-align:center;word-spacing:2.2px;">№ 96</div>
<div class="t" style="top:576.27px;font-size:10.4px;letter-spacing:0.58px;font-weight:400;font-family:'Liberation Serif', serif;left:225.80px;word-spacing:1.2px;">пр. р. Хаданго</div>
<div class="t" style="top:576.51px;font-size:10.4px;letter-spacing:0.55px;font-weight:400;font-family:'Liberation Serif', serif;left:258.10px;width:300px;text-align:center;word-spacing:1px;">вис. (пригребн.)</div>
<div class="t" style="top:576.68px;font-size:10.0px;letter-spacing:0.35px;font-weight:400;font-family:'Liberation Sans', sans-serif;left:479.70px;word-spacing:1.5px;">СВ</div>
<div class="t" style="top:576.72px;font-size:10.4px;letter-spacing:0.1px;font-weight:400;font-family:'Liberation Serif', serif;left:532.00px;-webkit-text-stroke:0.4px #000;">0,5</div>
<div class="t" style="top:576.78px;font-size:10.4px;letter-spacing:0.1px;font-weight:400;font-family:'Liberation Serif', serif;left:573.10px;-webkit-text-stroke:0.4px #000;">0,5</div>
<div class="t" style="top:576.84px;font-size:10.4px;letter-spacing:0.1px;font-weight:400;font-family:'Liberation Serif', serif;left:619.10px;-webkit-text-stroke:0.4px #000;">0,1</div>
<div class="t" style="top:576.91px;font-size:10.4px;letter-spacing:0.1px;font-weight:400;font-family:'Liberation Serif', serif;left:665.10px;-webkit-text-stroke:0.4px #000;">0,1</div>
<div class="t" style="top:586.31px;right:670.40px;font-size:10.4px;letter-spacing:0;text-align:right;-webkit-text-stroke:0.4px #000">97</div>
<div class="t" style="top:586.45px;font-size:10.4px;letter-spacing:0.2px;font-weight:400;font-family:'Liberation Serif', serif;left:2.20px;width:300px;text-align:center;word-spacing:2.2px;">№ 97</div>
<div class="t" style="top:586.59px;font-size:10.4px;letter-spacing:0.58px;font-weight:400;font-family:'Liberation Serif', serif;left:225.80px;word-spacing:1.2px;">пр. р. Хаданго</div>
<div class="t" style="top:586.83px;font-size:10.4px;letter-spacing:0.55px;font-weight:400;font-family:'Liberation Serif', serif;left:258.10px;width:300px;text-align:center;word-spacing:1px;">вис. дол.</div>
<div class="t" style="top:587.02px;font-size:10.0px;letter-spacing:0.35px;font-weight:400;font-family:'Liberation Sans', sans-serif;left:479.70px;word-spacing:1.5px;">СВ</div>
<div class="t" style="top:587.05px;font-size:10.4px;letter-spacing:0.1px;font-weight:400;font-family:'Liberation Serif', serif;left:532.00px;-webkit-text-stroke:0.4px #000;">1,3</div>
<div class="t" style="top:587.11px;font-size:10.4px;letter-spacing:0.1px;font-weight:400;font-family:'Liberation Serif', serif;left:573.10px;-webkit-text-stroke:0.4px #000;">1,3</div>
<div class="t" style="top:587.18px;font-size:10.4px;letter-spacing:0.1px;font-weight:400;font-family:'Liberation Serif', serif;left:619.10px;-webkit-text-stroke:0.4px #000;">0,3</div>
<div class="t" style="top:587.25px;font-size:10.4px;letter-spacing:0.1px;font-weight:400;font-family:'Liberation Serif', serif;left:665.10px;-webkit-text-stroke:0.4px #000;">0,3</div>
<div class="t" style="top:596.63px;right:670.40px;font-size:10.4px;letter-spacing:0;text-align:right;-webkit-text-stroke:0.4px #000">98</div>
<div class="t" style="top:596.78px;font-size:10.4px;letter-spacing:0.2px;font-weight:400;font-family:'Liberation Serif', serif;left:2.20px;width:300px;text-align:center;word-spacing:2.2px;">№ 98</div>
<div class="t" style="top:596.92px;font-size:10.4px;letter-spacing:0.58px;font-weight:400;font-family:'Liberation Serif', serif;left:225.80px;word-spacing:1.2px;">пр. р. Хаданго</div>
<div class="t" style="top:597.16px;font-size:10.4px;letter-spacing:0.55px;font-weight:400;font-family:'Liberation Serif', serif;left:258.10px;width:300px;text-align:center;word-spacing:1px;">присклон.</div>
<div class="t" style="top:597.35px;font-size:10.0px;letter-spacing:0.35px;font-weight:400;font-family:'Liberation Sans', sans-serif;left:479.70px;word-spacing:1.5px;">З</div>
<div class="t" style="top:597.38px;font-size:10.4px;letter-spacing:0.1px;font-weight:400;font-family:'Liberation Serif', serif;left:532.00px;-webkit-text-stroke:0.4px #000;">0,8</div>
<div class="t" style="top:597.44px;font-size:10.4px;letter-spacing:0.1px;font-weight:400;font-family:'Liberation Serif', serif;left:573.10px;-webkit-text-stroke:0.4px #000;">0,8</div>
<div class="t" style="top:597.51px;font-size:10.4px;letter-spacing:0.1px;font-weight:400;font-family:'Liberation Serif', serif;left:619.10px;-webkit-text-stroke:0.4px #000;">0,3</div>
<div class="t" style="top:597.58px;font-size:10.4px;letter-spacing:0.1px;font-weight:400;font-family:'Liberation Serif', serif;left:665.10px;-webkit-text-stroke:0.4px #000;">0,3</div>
<div class="t" style="top:606.95px;right:670.40px;font-size:10.4px;letter-spacing:0;text-align:right;-webkit-text-stroke:0.4px #000">99</div>
<div class="t" style="top:607.10px;font-size:10.4px;letter-spacing:0.2px;font-weight:400;font-family:'Liberation Serif', serif;left:2.20px;width:300px;text-align:center;word-spacing:2.2px;">№ 99</div>
<div class="t" style="top:607.24px;font-size:10.4px;letter-spacing:0.58px;font-weight:400;font-family:'Liberation Serif', serif;left:225.80px;word-spacing:1.2px;">пр. р. Хаданго</div>
<div class="t" style="top:607.49px;font-size:10.4px;letter-spacing:0.55px;font-weight:400;font-family:'Liberation Serif', serif;left:258.10px;width:300px;text-align:center;word-spacing:1px;">асимм. дол.</div>
<div class="t" style="top:607.68px;font-size:10.0px;letter-spacing:0.35px;font-weight:400;font-family:'Liberation Sans', sans-serif;left:479.70px;word-spacing:1.5px;">З</div>
<div class="t" style="top:607.71px;font-size:10.4px;letter-spacing:0.1px;font-weight:400;font-family:'Liberation Serif', serif;left:532.00px;-webkit-text-stroke:0.4px #000;">1,5</div>
<div class="t" style="top:607.77px;font-size:10.4px;letter-spacing:0.1px;font-weight:400;font-family:'Liberation Serif', serif;left:573.10px;-webkit-text-stroke:0.4px #000;">1,5</div>
<div class="t" style="top:607.84px;font-size:10.4px;letter-spacing:0.1px;font-weight:400;font-family:'Liberation Serif', serif;left:619.10px;-webkit-text-stroke:0.4px #000;">0,6</div>
<div class="t" style="top:607.92px;font-size:10.4px;letter-spacing:0.1px;font-weight:400;font-family:'Liberation Serif', serif;left:665.10px;-webkit-text-stroke:0.4px #000;">0,6</div>
<div class="t" style="top:617.27px;right:670.40px;font-size:10.4px;letter-spacing:0;text-align:right;-webkit-text-stroke:0.4px #000">100</div>
<div class="t" style="top:617.31px;font-size:10.4px;letter-spacing:0px;font-weight:400;font-family:'Liberation Serif', serif;left:62.90px;">*</div>
<div class="t" style="top:617.42px;font-size:10.4px;letter-spacing:0.2px;font-weight:400;font-family:'Liberation Serif', serif;left:2.20px;width:300px;text-align:center;word-spacing:2.2px;">№ 100</div>
<div class="t" style="top:617.57px;font-size:10.4px;letter-spacing:0.58px;font-weight:400;font-family:'Liberation Serif', serif;left:225.80px;word-spacing:1.2px;">пр. р. Хаданго</div>
<div class="t" style="top:617.82px;font-size:10.4px;letter-spacing:0.55px;font-weight:400;font-family:'Liberation Serif', serif;left:258.10px;width:300px;text-align:center;word-spacing:1px;">дол.</div>
<div class="t" style="top:618.01px;font-size:10.0px;letter-spacing:0.35px;font-weight:400;font-family:'Liberation Sans', sans-serif;left:479.70px;word-spacing:1.5px;">СЗ</div>
<div class="t" style="top:618.04px;font-size:10.4px;letter-spacing:0.1px;font-weight:400;font-family:'Liberation Serif', serif;left:532.00px;-webkit-text-stroke:0.4px #000;">1,6</div>
<div class="t" style="top:618.11px;font-size:10.4px;letter-spacing:0.1px;font-weight:400;font-family:'Liberation Serif', serif;left:573.10px;-webkit-text-stroke:0.4px #000;">1,6</div>
<div class="t" style="top:618.18px;font-size:10.4px;letter-spacing:0.1px;font-weight:400;font-family:'Liberation Serif', serif;left:619.10px;-webkit-text-stroke:0.4px #000;">0,5</div>
<div class="t" style="top:618.25px;font-size:10.4px;letter-spacing:0.1px;font-weight:400;font-family:'Liberation Serif', serif;left:665.10px;-webkit-text-stroke:0.4px #000;">0,5</div>
<div class="t" style="top:627.59px;right:670.40px;font-size:10.4px;letter-spacing:0;text-align:right;-webkit-text-stroke:0.4px #000">101</div>
<div class="t" style="top:627.74px;font-size:10.4px;letter-spacing:0.2px;font-weight:400;font-family:'Liberation Serif', serif;left:2.20px;width:300px;text-align:center;word-spacing:2.2px;">№ 101</div>
<div class="t" style="top:627.89px;font-size:10.4px;letter-spacing:0.58px;font-weight:400;font-family:'Liberation Serif', serif;left:225.80px;word-spacing:1.2px;">пр. р. Хаданго</div>
<div class="t" style="top:628.15px;font-size:10.4px;letter-spacing:0.55px;font-weight:400;font-family:'Liberation Serif', serif;left:258.10px;width:300px;text-align:center;word-spacing:1px;">кар.-дол.</div>
<div class="t" style="top:628.34px;font-size:10.0px;letter-spacing:0.35px;font-weight:400;font-family:'Liberation Sans', sans-serif;left:479.70px;word-spacing:1.5px;">З</div>
<div class="t" style="top:628.37px;font-size:10.4px;letter-spacing:0.1px;font-weight:400;font-family:'Liberation Serif', serif;left:532.00px;-webkit-text-stroke:0.4px #000;">0,8</div>
<div class="t" style="top:628.44px;font-size:10.4px;letter-spacing:0.1px;font-weight:400;font-family:'Liberation Serif', serif;left:573.10px;-webkit-text-stroke:0.4px #000;">0,8</div>
<div class="t" style="top:628.51px;font-size:10.4px;letter-spacing:0.1px;font-weight:400;font-family:'Liberation Serif', serif;left:619.10px;-webkit-text-stroke:0.4px #000;">0,2</div>
<div class="t" style="top:628.59px;font-size:10.4px;letter-spacing:0.1px;font-weight:400;font-family:'Liberation Serif', serif;left:665.10px;-webkit-text-stroke:0.4px #000;">0,2</div>
<div class="t b" style="top:638.00px;font-size:10.4px;letter-spacing:0.2px;font-weight:700;font-family:'Liberation Serif', serif;left:91.60px;word-spacing:1.5px;">16 ледников</div>
<div class="t" style="top:638.84px;font-size:10.4px;letter-spacing:0.1px;font-weight:400;font-family:'Liberation Serif', serif;left:619.10px;">5,5</div>
<div class="t" style="top:638.92px;font-size:10.4px;letter-spacing:0.1px;font-weight:400;font-family:'Liberation Serif', serif;left:665.10px;">5,5</div>
<div class="t" style="top:654.41px;font-size:10.4px;letter-spacing:0.62px;font-weight:400;font-family:'Liberation Serif', serif;right:46.00px;text-align:right;">Кроме того, в бассейне р. Хаданго имеется 2 ледника</div>
<div class="t b" style="top:669.68px;font-size:10.4px;letter-spacing:0.22px;font-weight:700;font-family:'Liberation Serif', serif;left:91.50px;word-spacing:1.5px;">Итого 18 ледников</div>
<div class="t" style="top:670.53px;font-size:10.4px;letter-spacing:0.1px;font-weight:400;font-family:'Liberation Serif', serif;left:620.00px;">5,6</div>
<div class="t b" style="top:700.81px;font-size:10.4px;letter-spacing:0.36px;font-weight:700;font-family:'Liberation Serif', serif;right:44.60px;text-align:right;-webkit-text-stroke:0.25px #000;">Бассейн р. Дараиванджируд</div>
<div class="t" style="top:717.11px;font-size:10.4px;letter-spacing:0.62px;font-weight:400;font-family:'Liberation Serif', serif;right:44.60px;text-align:right;">Южный склон Зерав</div>
<div class="t" style="top:730.99px;right:670.40px;font-size:10.4px;letter-spacing:0;text-align:right;-webkit-text-stroke:0.4px #000">102</div>
<div class="t" style="top:731.03px;font-size:10.4px;letter-spacing:0px;font-weight:400;font-family:'Liberation Serif', serif;left:62.90px;">*</div>
<div class="t" style="top:731.15px;font-size:10.4px;letter-spacing:0.2px;font-weight:400;font-family:'Liberation Serif', serif;left:2.20px;width:300px;text-align:center;word-spacing:2.2px;">№ 102</div>
<div class="t" style="top:731.30px;font-size:10.4px;letter-spacing:0.58px;font-weight:400;font-family:'Liberation Serif', serif;left:225.80px;word-spacing:1.2px;">пр. р. Дараиванджируд</div>
<div class="t" style="top:731.55px;font-size:10.4px;letter-spacing:0.55px;font-weight:400;font-family:'Liberation Serif', serif;left:258.10px;width:300px;text-align:center;word-spacing:1px;">вис. (пригребн.)</div>
<div class="t" style="top:731.75px;font-size:10.0px;letter-spacing:0.35px;font-weight:400;font-family:'Liberation Sans', sans-serif;left:479.70px;word-spacing:1.5px;">ЮВ</div>
<div class="t" style="top:731.79px;font-size:10.4px;letter-spacing:0.1px;font-weight:400;font-family:'Liberation Serif', serif;left:532.00px;-webkit-text-stroke:0.4px #000;">0,6</div>
<div class="t" style="top:731.85px;font-size:10.4px;letter-spacing:0.1px;font-weight:400;font-family:'Liberation Serif', serif;left:573.10px;-webkit-text-stroke:0.4px #000;">0,6</div>
<div class="t" style="top:731.92px;font-size:10.4px;letter-spacing:0.1px;font-weight:400;font-family:'Liberation Serif', serif;left:619.10px;-webkit-text-stroke:0.4px #000;">0,1</div>
<div class="t" style="top:732.00px;font-size:10.4px;letter-spacing:0.1px;font-weight:400;font-family:'Liberation Serif', serif;left:665.10px;-webkit-text-stroke:0.4px #000;">0,1</div>
<div class="t" style="top:741.29px;right:670.40px;font-size:10.4px;letter-spacing:0;text-align:right;-webkit-text-stroke:0.4px #000">103</div>
<div class="t" style="top:741.34px;font-size:10.4px;letter-spacing:0px;font-weight:400;font-family:'Liberation Serif', serif;left:62.90px;">*</div>
<div class="t" style="top:741.46px;font-size:10.4px;letter-spacing:0.2px;font-weight:400;font-family:'Liberation Serif', serif;left:2.20px;width:300px;text-align:center;word-spacing:2.2px;">№ 103</div>
<div class="t" style="top:741.62px;font-size:10.4px;letter-spacing:0.58px;font-weight:400;font-family:'Liberation Serif', serif;left:225.80px;word-spacing:1.2px;">пр. р. Дараиванджируд</div>
<div class="t" style="top:741.89px;font-size:10.4px;letter-spacing:0.55px;font-weight:400;font-family:'Liberation Serif', serif;left:258.10px;width:300px;text-align:center;word-spacing:1px;">кар.-дол.</div>
<div class="t" style="top:742.09px;font-size:10.0px;letter-spacing:0.35px;font-weight:400;font-family:'Liberation Sans', sans-serif;left:479.70px;word-spacing:1.5px;">СВ</div>
<div class="t" style="top:742.14px;font-size:10.4px;letter-spacing:0.1px;font-weight:400;font-family:'Liberation Serif', serif;left:532.00px;-webkit-text-stroke:0.4px #000;">1,5</div>
<div class="t" style="top:742.21px;font-size:10.4px;letter-spacing:0.1px;font-weight:400;font-family:'Liberation Serif', serif;left:573.10px;-webkit-text-stroke:0.4px #000;">1,5</div>
<div class="t" style="top:742.29px;font-size:10.4px;letter-spacing:0.1px;font-weight:400;font-family:'Liberation Serif', serif;left:619.10px;-webkit-text-stroke:0.4px #000;">0,4</div>
<div class="t" style="top:742.37px;font-size:10.4px;letter-spacing:0.1px;font-weight:400;font-family:'Liberation Serif', serif;left:665.10px;-webkit-text-stroke:0.4px #000;">0,4</div>
<div class="t" style="top:751.59px;right:670.40px;font-size:10.4px;letter-spacing:0;text-align:right;-webkit-text-stroke:0.4px #000">104</div>
<div class="t" style="top:751.64px;font-size:10.4px;letter-spacing:0px;font-weight:400;font-family:'Liberation Serif', serif;left:62.90px;">*</div>
<div class="t" style="top:751.77px;font-size:10.4px;letter-spacing:0.2px;font-weight:400;font-family:'Liberation Serif', serif;left:2.20px;width:300px;text-align:center;word-spacing:2.2px;">№ 104</div>
<div class="t" style="top:751.94px;font-size:10.4px;letter-spacing:0.58px;font-weight:400;font-family:'Liberation Serif', serif;left:225.80px;word-spacing:1.2px;">пр. р. Дараиванджируд</div>
<div class="t" style="top:752.23px;font-size:10.4px;letter-spacing:0.55px;font-weight:400;font-family:'Liberation Serif', serif;left:258.10px;width:300px;text-align:center;word-spacing:1px;">кар.-дол.</div>
<div class="t" style="top:752.44px;font-size:10.0px;letter-spacing:0.35px;font-weight:400;font-family:'Liberation Sans', sans-serif;left:479.70px;word-spacing:1.5px;">СВ</div>
<div class="t" style="top:752.49px;font-size:10.4px;letter-spacing:0.1px;font-weight:400;font-family:'Liberation Serif', serif;left:532.00px;-webkit-text-stroke:0.4px #000;">0,9</div>
<div class="t" style="top:752.57px;font-size:10.4px;letter-spacing:0.1px;font-weight:400;font-family:'Liberation Serif', serif;left:573.10px;-webkit-text-stroke:0.4px #000;">0,7</div>
<div class="t" style="top:752.65px;font-size:10.4px;letter-spacing:0.1px;font-weight:400;font-family:'Liberation Serif', serif;left:619.10px;-webkit-text-stroke:0.4px #000;">0,2</div>
<div class="t" style="top:752.74px;font-size:10.4px;letter-spacing:0.1px;font-weight:400;font-family:'Liberation Serif', serif;left:665.10px;-webkit-text-stroke:0.4px #000;">0,2</div>
<div class="t" style="top:761.89px;right:670.40px;font-size:10.4px;letter-spacing:0;text-align:right;-webkit-text-stroke:0.4px #000">105</div>
<div class="t" style="top:761.94px;font-size:10.4px;letter-spacing:0px;font-weight:400;font-family:'Liberation Serif', serif;left:62.90px;">*</div>
<div class="t" style="top:762.08px;font-size:10.4px;letter-spacing:0.2px;font-weight:400;font-family:'Liberation Serif', serif;left:2.20px;width:300px;text-align:center;word-spacing:2.2px;">№ 105</div>
<div class="t" style="top:762.26px;font-size:10.4px;letter-spacing:0.58px;font-weight:400;font-family:'Liberation Serif', serif;left:225.80px;word-spacing:1.2px;">пр. р. Дараиванджируд</div>
<div class="t" style="top:762.57px;font-size:10.4px;letter-spacing:0.55px;font-weight:400;font-family:'Liberation Serif', serif;left:258.10px;width:300px;text-align:center;word-spacing:1px;">вис. кар.</div>
<div class="t" style="top:762.79px;font-size:10.0px;letter-spacing:0.35px;font-weight:400;font-family:'Liberation Sans', sans-serif;left:479.70px;word-spacing:1.5px;">СВ</div>
<div class="t" style="top:762.85px;font-size:10.4px;letter-spacing:0.1px;font-weight:400;font-family:'Liberation Serif', serif;left:532.00px;-webkit-text-stroke:0.4px #000;">1,0</div>
<div class="t" style="top:762.93px;font-size:10.4px;letter-spacing:0.1px;font-weight:400;font-family:'Liberation Serif', serif;left:573.10px;-webkit-text-stroke:0.4px #000;">0,8</div>
<div class="t" style="top:763.02px;font-size:10.4px;letter-spacing:0.1px;font-weight:400;font-family:'Liberation Serif', serif;left:619.10px;-webkit-text-stroke:0.4px #000;">0,3</div>
<div class="t" style="top:763.11px;font-size:10.4px;letter-spacing:0.1px;font-weight:400;font-family:'Liberation Serif', serif;left:665.10px;-webkit-text-stroke:0.4px #000;">0,3</div>
<div class="t" style="top:772.19px;right:670.40px;font-size:10.4px;letter-spacing:0;text-align:right;-webkit-text-stroke:0.4px #000">106</div>
<div class="t" style="top:772.39px;font-size:10.4px;letter-spacing:0.2px;font-weight:400;font-family:'Liberation Serif', serif;left:2.20px;width:300px;text-align:center;word-spacing:2.2px;">№ 106</div>
<div class="t" style="top:772.58px;font-size:10.4px;letter-spacing:0.58px;font-weight:400;font-family:'Liberation Serif', serif;left:225.80px;word-spacing:1.2px;">пр. р. Дараиванджируд</div>
<div class="t" style="top:772.91px;font-size:10.4px;letter-spacing:0.55px;font-weight:400;font-family:'Liberation Serif', serif;left:258.10px;width:300px;text-align:center;word-spacing:1px;">вис. кар.</div>
<div class="t" style="top:773.14px;font-size:10.0px;letter-spacing:0.35px;font-weight:400;font-family:'Liberation Sans', sans-serif;left:479.70px;word-spacing:1.5px;">СВ</div>
<div class="t" style="top:773.21px;font-size:10.4px;letter-spacing:0.1px;font-weight:400;font-family:'Liberation Serif', serif;left:532.00px;-webkit-text-stroke:0.4px #000;">0,7</div>
<div class="t" style="top:773.29px;font-size:10.4px;letter-spacing:0.1px;font-weight:400;font-family:'Liberation Serif', serif;left:573.10px;-webkit-text-stroke:0.4px #000;">0,7</div>
<div class="t" style="top:773.38px;font-size:10.4px;letter-spacing:0.1px;font-weight:400;font-family:'Liberation Serif', serif;left:619.10px;-webkit-text-stroke:0.4px #000;">0,2</div>
<div class="t" style="top:773.48px;font-size:10.4px;letter-spacing:0.1px;font-weight:400;font-family:'Liberation Serif', serif;left:665.10px;-webkit-text-stroke:0.4px #000;">0,2</div>
<div class="t" style="top:782.49px;right:670.40px;font-size:10.4px;letter-spacing:0;text-align:right;-webkit-text-stroke:0.4px #000">107</div>
<div class="t" style="top:782.55px;font-size:10.4px;letter-spacing:0px;font-weight:400;font-family:'Liberation Serif', serif;left:62.90px;">*</div>
<div class="t" style="top:782.70px;font-size:10.4px;letter-spacing:0.2px;font-weight:400;font-family:'Liberation Serif', serif;left:2.20px;width:300px;text-align:center;word-spacing:2.2px;">№ 107</div>
<div class="t" style="top:782.90px;font-size:10.4px;letter-spacing:0.58px;font-weight:400;font-family:'Liberation Serif', serif;left:225.80px;word-spacing:1.2px;">пр. р. Дараиванджируд</div>
<div class="t" style="top:783.25px;font-size:10.4px;letter-spacing:0.55px;font-weight:400;font-family:'Liberation Serif', serif;left:258.10px;width:300px;text-align:center;word-spacing:1px;">склон.</div>
<div class="t" style="top:783.49px;font-size:10.0px;letter-spacing:0.35px;font-weight:400;font-family:'Liberation Sans', sans-serif;left:479.70px;word-spacing:1.5px;">С</div>
<div class="t" style="top:783.56px;font-size:10.4px;letter-spacing:0.1px;font-weight:400;font-family:'Liberation Serif', serif;left:532.00px;-webkit-text-stroke:0.4px #000;">0,6</div>
<div class="t" style="top:783.65px;font-size:10.4px;letter-spacing:0.1px;font-weight:400;font-family:'Liberation Serif', serif;left:573.10px;-webkit-text-stroke:0.4px #000;">0,6</div>
<div class="t" style="top:783.75px;font-size:10.4px;letter-spacing:0.1px;font-weight:400;font-family:'Liberation Serif', serif;left:619.10px;-webkit-text-stroke:0.4px #000;">0,2</div>
<div class="t" style="top:783.85px;font-size:10.4px;letter-spacing:0.1px;font-weight:400;font-family:'Liberation Serif', serif;left:665.10px;-webkit-text-stroke:0.4px #000;">0,2</div>
<div class="t" style="top:792.79px;right:670.40px;font-size:10.4px;letter-spacing:0;text-align:right;-webkit-text-stroke:0.4px #000">108</div>
<div class="t" style="top:792.85px;font-size:10.4px;letter-spacing:0px;font-weight:400;font-family:'Liberation Serif', serif;left:62.90px;">*</div>
<div class="t" style="top:793.01px;font-size:10.4px;letter-spacing:0.2px;font-weight:400;font-family:'Liberation Serif', serif;left:2.20px;width:300px;text-align:center;word-spacing:2.2px;">№ 108</div>
<div class="t" style="top:793.22px;font-size:10.4px;letter-spacing:0.58px;font-weight:400;font-family:'Liberation Serif', serif;left:225.80px;word-spacing:1.2px;">Дараиванджируд</div>
<div class="t" style="top:793.59px;font-size:10.4px;letter-spacing:0.55px;font-weight:400;font-family:'Liberation Serif', serif;left:258.10px;width:300px;text-align:center;word-spacing:1px;">дол.</div>
<div class="t" style="top:793.80px;font-size:10.0px;letter-spacing:0.35px;font-weight:400;font-family:'Liberation Sans', sans-serif;left:458.90px;word-spacing:3.5px;">С, В, ЮВ</div>
<div class="t" style="top:793.92px;font-size:10.4px;letter-spacing:0.1px;font-weight:400;font-family:'Liberation Serif', serif;left:532.00px;-webkit-text-stroke:0.4px #000;">6,2</div>
<div class="t" style="top:794.01px;font-size:10.4px;letter-spacing:0.1px;font-weight:400;font-family:'Liberation Serif', serif;left:573.10px;-webkit-text-stroke:0.4px #000;">5,0</div>
<div class="t" style="top:794.12px;font-size:10.4px;letter-spacing:0.1px;font-weight:400;font-family:'Liberation Serif', serif;left:619.10px;-webkit-text-stroke:0.4px #000;">5,2</div>
<div class="t" style="top:794.22px;font-size:10.4px;letter-spacing:0.1px;font-weight:400;font-family:'Liberation Serif', serif;left:665.10px;-webkit-text-stroke:0.4px #000;">4,4</div>
<div class="t" style="top:803.09px;right:670.40px;font-size:10.4px;letter-spacing:0;text-align:right;-webkit-text-stroke:0.4px #000">109</div>
<div class="t" style="top:803.16px;font-size:10.4px;letter-spacing:0px;font-weight:400;font-family:'Liberation Serif', serif;left:62.90px;">*</div>
<div class="t" style="top:803.32px;font-size:10.4px;letter-spacing:0.2px;font-weight:400;font-family:'Liberation Serif', serif;left:2.20px;width:300px;text-align:center;word-spacing:2.2px;">№ 109</div>
<div class="t" style="top:803.54px;font-size:10.4px;letter-spacing:0.58px;font-weight:400;font-family:'Liberation Serif', serif;left:225.80px;word-spacing:1.2px;">пр. р. Дараиванджируд</div>
<div class="t" style="top:803.93px;font-size:10.4px;letter-spacing:0.55px;font-weight:400;font-family:'Liberation Serif', serif;left:258.10px;width:300px;text-align:center;word-spacing:1px;">кар.</div>
<div class="t" style="top:804.19px;font-size:10.0px;letter-spacing:0.35px;font-weight:400;font-family:'Liberation Sans', sans-serif;left:479.70px;word-spacing:1.5px;">В</div>
<div class="t" style="top:804.27px;font-size:10.4px;letter-spacing:0.1px;font-weight:400;font-family:'Liberation Serif', serif;left:532.00px;-webkit-text-stroke:0.4px #000;">0,8</div>
<div class="t" style="top:804.37px;font-size:10.4px;letter-spacing:0.1px;font-weight:400;font-family:'Liberation Serif', serif;left:573.10px;-webkit-text-stroke:0.4px #000;">0,8</div>
<div class="t" style="top:804.48px;font-size:10.4px;letter-spacing:0.1px;font-weight:400;font-family:'Liberation Serif', serif;left:619.10px;-webkit-text-stroke:0.4px #000;">0,3</div>
<div class="t" style="top:804.59px;font-size:10.4px;letter-spacing:0.1px;font-weight:400;font-family:'Liberation Serif', serif;left:665.10px;-webkit-text-stroke:0.4px #000;">0,3</div>
<div class="t" style="top:813.39px;right:670.40px;font-size:10.4px;letter-spacing:0;text-align:right;-webkit-text-stroke:0.4px #000">110</div>
<div class="t" style="top:813.46px;font-size:10.4px;letter-spacing:0px;font-weight:400;font-family:'Liberation Serif', serif;left:62.90px;">*</div>
<div class="t" style="top:813.63px;font-size:10.4px;letter-spacing:0.2px;font-weight:400;font-family:'Liberation Serif', serif;left:2.20px;width:300px;text-align:center;word-spacing:2.2px;">№ 110</div>
<div class="t" style="top:813.87px;font-size:10.4px;letter-spacing:0.58px;font-weight:400;font-family:'Liberation Serif', serif;left:225.80px;word-spacing:1.2px;">пр. р. Дараиванджируд</div>
<div class="t" style="top:814.27px;font-size:10.4px;letter-spacing:0.55px;font-weight:400;font-family:'Liberation Serif', serif;left:258.10px;width:300px;text-align:center;word-spacing:1px;">асимм. дол.</div>
<div class="t" style="top:814.54px;font-size:10.0px;letter-spacing:0.35px;font-weight:400;font-family:'Liberation Sans', sans-serif;left:479.70px;word-spacing:1.5px;">ЮЗ</div>
<div class="t" style="top:814.63px;font-size:10.4px;letter-spacing:0.1px;font-weight:400;font-family:'Liberation Serif', serif;left:532.00px;-webkit-text-stroke:0.4px #000;">1,4</div>
<div class="t" style="top:814.73px;font-size:10.4px;letter-spacing:0.1px;font-weight:400;font-family:'Liberation Serif', serif;left:573.10px;-webkit-text-stroke:0.4px #000;">1,4</div>
<div class="t" style="top:814.85px;font-size:10.4px;letter-spacing:0.1px;font-weight:400;font-family:'Liberation Serif', serif;left:619.10px;-webkit-text-stroke:0.4px #000;">0,7</div>
<div class="t" style="top:814.96px;font-size:10.4px;letter-spacing:0.1px;font-weight:400;font-family:'Liberation Serif', serif;left:665.10px;-webkit-text-stroke:0.4px #000;">0,7</div>
<div class="t" style="top:823.69px;right:670.40px;font-size:10.4px;letter-spacing:0;text-align:right;-webkit-text-stroke:0.4px #000">111</div>
<div class="t" style="top:823.76px;font-size:10.4px;letter-spacing:0px;font-weight:400;font-family:'Liberation Serif', serif;left:62.90px;">*</div>
<div class="t" style="top:823.94px;font-size:10.4px;letter-spacing:0.2px;font-weight:400;font-family:'Liberation Serif', serif;left:2.20px;width:300px;text-align:center;word-spacing:2.2px;">№ 111</div>
<div class="t" style="top:824.19px;font-size:10.4px;letter-spacing:0.58px;font-weight:400;font-family:'Liberation Serif', serif;left:225.80px;word-spacing:1.2px;">пр. р. Дараиванджируд</div>
<div class="t" style="top:824.61px;font-size:10.4px;letter-spacing:0.55px;font-weight:400;font-family:'Liberation Serif', serif;left:258.10px;width:300px;text-align:center;word-spacing:1px;">асимм. дол.</div>
<div class="t" style="top:824.85px;font-size:10.0px;letter-spacing:0.35px;font-weight:400;font-family:'Liberation Sans', sans-serif;left:464.50px;word-spacing:1.5px;">ЮЗ, З</div>
<div class="t" style="top:824.99px;font-size:10.4px;letter-spacing:0.1px;font-weight:400;font-family:'Liberation Serif', serif;left:532.00px;-webkit-text-stroke:0.4px #000;">2,7</div>
<div class="t" style="top:825.09px;font-size:10.4px;letter-spacing:0.1px;font-weight:400;font-family:'Liberation Serif', serif;left:573.10px;-webkit-text-stroke:0.4px #000;">2,7</div>
<div class="t" style="top:825.21px;font-size:10.4px;letter-spacing:0.1px;font-weight:400;font-family:'Liberation Serif', serif;left:619.10px;-webkit-text-stroke:0.4px #000;">1,2</div>
<div class="t" style="top:825.33px;font-size:10.4px;letter-spacing:0.1px;font-weight:400;font-family:'Liberation Serif', serif;left:665.10px;-webkit-text-stroke:0.4px #000;">1,2</div>
<div class="t" style="top:833.99px;right:670.40px;font-size:10.4px;letter-spacing:0;text-align:right;-webkit-text-stroke:0.4px #000">112</div>
<div class="t" style="top:834.07px;font-size:10.4px;letter-spacing:0px;font-weight:400;font-family:'Liberation Serif', serif;left:62.90px;">*</div>
<div class="t" style="top:834.25px;font-size:10.4px;letter-spacing:0.2px;font-weight:400;font-family:'Liberation Serif', serif;left:2.20px;width:300px;text-align:center;word-spacing:2.2px;">№ 112</div>
<div class="t" style="top:834.51px;font-size:10.4px;letter-spacing:0.58px;font-weight:400;font-family:'Liberation Serif', serif;left:225.80px;word-spacing:1.2px;">пр. р. Дараиванджируд</div>
<div class="t" style="top:834.95px;font-size:10.4px;letter-spacing:0.55px;font-weight:400;font-family:'Liberation Serif', serif;left:258.10px;width:300px;text-align:center;word-spacing:1px;">асимм. дол.</div>
<div class="t" style="top:835.24px;font-size:10.0px;letter-spacing:0.35px;font-weight:400;font-family:'Liberation Sans', sans-serif;left:479.70px;word-spacing:1.5px;">ЮЗ</div>
<div class="t" style="top:835.34px;font-size:10.4px;letter-spacing:0.1px;font-weight:400;font-family:'Liberation Serif', serif;left:532.00px;-webkit-text-stroke:0.4px #000;">2,4</div>
<div class="t" style="top:835.45px;font-size:10.4px;letter-spacing:0.1px;font-weight:400;font-family:'Liberation Serif', serif;left:573.10px;-webkit-text-stroke:0.4px #000;">2,0</div>
<div class="t" style="top:835.58px;font-size:10.4px;letter-spacing:0.1px;font-weight:400;font-family:'Liberation Serif', serif;left:619.10px;-webkit-text-stroke:0.4px #000;">1,0</div>
<div class="t" style="top:835.70px;font-size:10.4px;letter-spacing:0.1px;font-weight:400;font-family:'Liberation Serif', serif;left:665.10px;-webkit-text-stroke:0.4px #000;">0,9</div>
<div class="t" style="top:844.29px;right:670.40px;font-size:10.4px;letter-spacing:0;text-align:right;-webkit-text-stroke:0.4px #000">113</div>
<div class="t" style="top:844.37px;font-size:10.4px;letter-spacing:0px;font-weight:400;font-family:'Liberation Serif', serif;left:62.90px;">*</div>
<div class="t" style="top:844.57px;font-size:10.4px;letter-spacing:0.2px;font-weight:400;font-family:'Liberation Serif', serif;left:2.20px;width:300px;text-align:center;word-spacing:2.2px;">№ 113</div>
<div class="t" style="top:844.83px;font-size:10.4px;letter-spacing:0.58px;font-weight:400;font-family:'Liberation Serif', serif;left:225.80px;word-spacing:1.2px;">пр. р. Дараиванджируд</div>
<div class="t" style="top:845.29px;font-size:10.4px;letter-spacing:0.55px;font-weight:400;font-family:'Liberation Serif', serif;left:258.10px;width:300px;text-align:center;word-spacing:1px;">дол.</div>
<div class="t" style="top:845.59px;font-size:10.0px;letter-spacing:0.35px;font-weight:400;font-family:'Liberation Sans', sans-serif;left:479.70px;word-spacing:1.5px;">З</div>
<div class="t" style="top:845.70px;font-size:10.4px;letter-spacing:0.1px;font-weight:400;font-family:'Liberation Serif', serif;left:532.00px;-webkit-text-stroke:0.4px #000;">1,4</div>
<div class="t" style="top:845.81px;font-size:10.4px;letter-spacing:0.1px;font-weight:400;font-family:'Liberation Serif', serif;left:573.10px;-webkit-text-stroke:0.4px #000;">1,2</div>
<div class="t" style="top:845.94px;font-size:10.4px;letter-spacing:0.1px;font-weight:400;font-family:'Liberation Serif', serif;left:619.10px;-webkit-text-stroke:0.4px #000;">0,4</div>
<div class="t" style="top:846.07px;font-size:10.4px;letter-spacing:0.1px;font-weight:400;font-family:'Liberation Serif', serif;left:665.10px;-webkit-text-stroke:0.4px #000;">0,3</div>
<div class="t" style="top:854.59px;right:670.40px;font-size:10.4px;letter-spacing:0;text-align:right;-webkit-text-stroke:0.4px #000">114</div>
<div class="t" style="top:854.67px;font-size:10.4px;letter-spacing:0px;font-weight:400;font-family:'Liberation Serif', serif;left:62.90px;">*</div>
<div class="t" style="top:854.88px;font-size:10.4px;letter-spacing:0.2px;font-weight:400;font-family:'Liberation Serif', serif;left:2.20px;width:300px;text-align:center;word-spacing:2.2px;">№ 114</div>
<div class="t" style="top:855.15px;font-size:10.4px;letter-spacing:0.58px;font-weight:400;font-family:'Liberation Serif', serif;left:225.80px;word-spacing:1.2px;">пр. р. Дараиванджируд</div>
<div class="t" style="top:855.63px;font-size:10.4px;letter-spacing:0.55px;font-weight:400;font-family:'Liberation Serif', serif;left:258.10px;width:300px;text-align:center;word-spacing:1px;">кар.-дол.</div>
<div class="t" style="top:855.94px;font-size:10.0px;letter-spacing:0.35px;font-weight:400;font-family:'Liberation Sans', sans-serif;left:479.70px;word-spacing:1.5px;">СЗ</div>
<div class="t" style="top:856.05px;font-size:10.4px;letter-spacing:0.1px;font-weight:400;font-family:'Liberation Serif', serif;left:532.00px;-webkit-text-stroke:0.4px #000;">1,2</div>
<div class="t" style="top:856.17px;font-size:10.4px;letter-spacing:0.1px;font-weight:400;font-family:'Liberation Serif', serif;left:573.10px;-webkit-text-stroke:0.4px #000;">0,9</div>
<div class="t" style="top:856.31px;font-size:10.4px;letter-spacing:0.1px;font-weight:400;font-family:'Liberation Serif', serif;left:619.10px;-webkit-text-stroke:0.4px #000;">0,3</div>
<div class="t" style="top:856.44px;font-size:10.4px;letter-spacing:0.1px;font-weight:400;font-family:'Liberation Serif', serif;left:665.10px;-webkit-text-stroke:0.4px #000;">0,2</div>
<div class="t" style="top:864.89px;right:670.40px;font-size:10.4px;letter-spacing:0;text-align:right;-webkit-text-stroke:0.4px #000">115</div>
<div class="t" style="top:864.98px;font-size:10.4px;letter-spacing:0px;font-weight:400;font-family:'Liberation Serif', serif;left:62.90px;">*</div>
<div class="t" style="top:865.19px;font-size:10.4px;letter-spacing:0.2px;font-weight:400;font-family:'Liberation Serif', serif;left:2.20px;width:300px;text-align:center;word-spacing:2.2px;">№ 115</div>
<div class="t" style="top:865.47px;font-size:10.4px;letter-spacing:0.58px;font-weight:400;font-family:'Liberation Serif', serif;left:225.80px;word-spacing:1.2px;">пр. р. Дараиванджируд</div>
<div class="t" style="top:865.97px;font-size:10.4px;letter-spacing:0.55px;font-weight:400;font-family:'Liberation Serif', serif;left:258.10px;width:300px;text-align:center;word-spacing:1px;">кар.</div>
<div class="t" style="top:866.29px;font-size:10.0px;letter-spacing:0.35px;font-weight:400;font-family:'Liberation Sans', sans-serif;left:479.70px;word-spacing:1.5px;">З</div>
<div class="t" style="top:866.41px;font-size:10.4px;letter-spacing:0.1px;font-weight:400;font-family:'Liberation Serif', serif;left:532.00px;-webkit-text-stroke:0.4px #000;">1,3</div>
<div class="t" style="top:866.53px;font-size:10.4px;letter-spacing:0.1px;font-weight:400;font-family:'Liberation Serif', serif;left:573.10px;-webkit-text-stroke:0.4px #000;">0,6</div>
<div class="t" style="top:866.67px;font-size:10.4px;letter-spacing:0.1px;font-weight:400;font-family:'Liberation Serif', serif;left:619.10px;-webkit-text-stroke:0.4px #000;">0,5</div>
<div class="t" style="top:866.82px;font-size:10.4px;letter-spacing:0.1px;font-weight:400;font-family:'Liberation Serif', serif;left:665.10px;-webkit-text-stroke:0.4px #000;">0,3</div>
<div class="t" style="top:875.19px;right:670.40px;font-size:10.4px;letter-spacing:0;text-align:right;-webkit-text-stroke:0.4px #000">116</div>
<div class="t" style="top:875.50px;font-size:10.4px;letter-spacing:0.2px;font-weight:400;font-family:'Liberation Serif', serif;left:2.20px;width:300px;text-align:center;word-spacing:2.2px;">№ 116</div>
<div class="t" style="top:875.79px;font-size:10.4px;letter-spacing:0.58px;font-weight:400;font-family:'Liberation Serif', serif;left:225.80px;word-spacing:1.2px;">пр. р. Дараиванджируд</div>
<div class="t" style="top:876.31px;font-size:10.4px;letter-spacing:0.55px;font-weight:400;font-family:'Liberation Serif', serif;left:258.10px;width:300px;text-align:center;word-spacing:1px;">вис. кар.</div>
<div class="t" style="top:876.64px;font-size:10.0px;letter-spacing:0.35px;font-weight:400;font-family:'Liberation Sans', sans-serif;left:479.70px;word-spacing:1.5px;">ЮЗ</div>
<div class="t" style="top:876.76px;font-size:10.4px;letter-spacing:0.1px;font-weight:400;font-family:'Liberation Serif', serif;left:532.00px;-webkit-text-stroke:0.4px #000;">0,9</div>
<div class="t" style="top:876.89px;font-size:10.4px;letter-spacing:0.1px;font-weight:400;font-family:'Liberation Serif', serif;left:573.10px;-webkit-text-stroke:0.4px #000;">0,9</div>
<div class="t" style="top:877.04px;font-size:10.4px;letter-spacing:0.1px;font-weight:400;font-family:'Liberation Serif', serif;left:619.10px;-webkit-text-stroke:0.4px #000;">0,3</div>
<div class="t" style="top:877.19px;font-size:10.4px;letter-spacing:0.1px;font-weight:400;font-family:'Liberation Serif', serif;left:665.10px;-webkit-text-stroke:0.4px #000;">0,3</div>
<div class="t" style="top:885.49px;right:670.40px;font-size:10.4px;letter-spacing:0;text-align:right;-webkit-text-stroke:0.4px #000">117</div>
<div class="t" style="top:885.58px;font-size:10.4px;letter-spacing:0px;font-weight:400;font-family:'Liberation Serif', serif;left:62.90px;">*</div>
<div class="t" style="top:885.81px;font-size:10.4px;letter-spacing:0.2px;font-weight:400;font-family:'Liberation Serif', serif;left:2.20px;width:300px;text-align:center;word-spacing:2.2px;">№ 117</div>
<div class="t" style="top:886.12px;font-size:10.4px;letter-spacing:0.58px;font-weight:400;font-family:'Liberation Serif', serif;left:225.80px;word-spacing:1.2px;">пр. р. Дараиванджируд</div>
<div class="t" style="top:886.65px;font-size:10.4px;letter-spacing:0.55px;font-weight:400;font-family:'Liberation Serif', serif;left:258.10px;width:300px;text-align:center;word-spacing:1px;">дол.</div>
<div class="t" style="top:886.99px;font-size:10.0px;letter-spacing:0.35px;font-weight:400;font-family:'Liberation Sans', sans-serif;left:479.70px;word-spacing:1.5px;">ЮВ</div>
<div class="t" style="top:887.12px;font-size:10.4px;letter-spacing:0.1px;font-weight:400;font-family:'Liberation Serif', serif;left:532.00px;-webkit-text-stroke:0.4px #000;">2,4</div>
<div class="t" style="top:887.25px;font-size:10.4px;letter-spacing:0.1px;font-weight:400;font-family:'Liberation Serif', serif;left:573.10px;-webkit-text-stroke:0.4px #000;">2,4</div>
<div class="t" style="top:887.41px;font-size:10.4px;letter-spacing:0.1px;font-weight:400;font-family:'Liberation Serif', serif;left:619.10px;-webkit-text-stroke:0.4px #000;">1,1</div>
<div class="t" style="top:887.56px;font-size:10.4px;letter-spacing:0.1px;font-weight:400;font-family:'Liberation Serif', serif;left:665.10px;-webkit-text-stroke:0.4px #000;">1,1</div>
<div class="t" style="top:895.79px;right:670.40px;font-size:10.4px;letter-spacing:0;text-align:right;-webkit-text-stroke:0.4px #000">118</div>
<div class="t" style="top:895.88px;font-size:10.4px;letter-spacing:0px;font-weight:400;font-family:'Liberation Serif', serif;left:62.90px;">*</div>
<div class="t" style="top:896.12px;font-size:10.4px;letter-spacing:0.2px;font-weight:400;font-family:'Liberation Serif', serif;left:2.20px;width:300px;text-align:center;word-spacing:2.2px;">№ 118</div>
<div class="t" style="top:896.44px;font-size:10.4px;letter-spacing:0.58px;font-weight:400;font-family:'Liberation Serif', serif;left:225.80px;word-spacing:1.2px;">пр. р. Дараиванджируд</div>
<div class="t" style="top:896.99px;font-size:10.4px;letter-spacing:0.55px;font-weight:400;font-family:'Liberation Serif', serif;left:258.10px;width:300px;text-align:center;word-spacing:1px;">дол.</div>
<div class="t" style="top:897.34px;font-size:10.0px;letter-spacing:0.35px;font-weight:400;font-family:'Liberation Sans', sans-serif;left:479.70px;word-spacing:1.5px;">ЮВ</div>
<div class="t" style="top:897.48px;font-size:10.4px;letter-spacing:0.1px;font-weight:400;font-family:'Liberation Serif', serif;left:532.00px;-webkit-text-stroke:0.4px #000;">2,0</div>
<div class="t" style="top:897.62px;font-size:10.4px;letter-spacing:0.1px;font-weight:400;font-family:'Liberation Serif', serif;left:573.10px;-webkit-text-stroke:0.4px #000;">2,0</div>
<div class="t" style="top:897.77px;font-size:10.4px;letter-spacing:0.1px;font-weight:400;font-family:'Liberation Serif', serif;left:619.10px;-webkit-text-stroke:0.4px #000;">0,4</div>
<div class="t" style="top:897.93px;font-size:10.4px;letter-spacing:0.1px;font-weight:400;font-family:'Liberation Serif', serif;left:665.10px;-webkit-text-stroke:0.4px #000;">0,4</div>
<div class="t b" style="top:926.30px;font-size:11.0px;letter-spacing:0px;font-weight:700;font-family:'Liberation Serif', serif;left:38.20px;-webkit-text-stroke:0.25px #000;">48</div>
</div></div></body></html>
